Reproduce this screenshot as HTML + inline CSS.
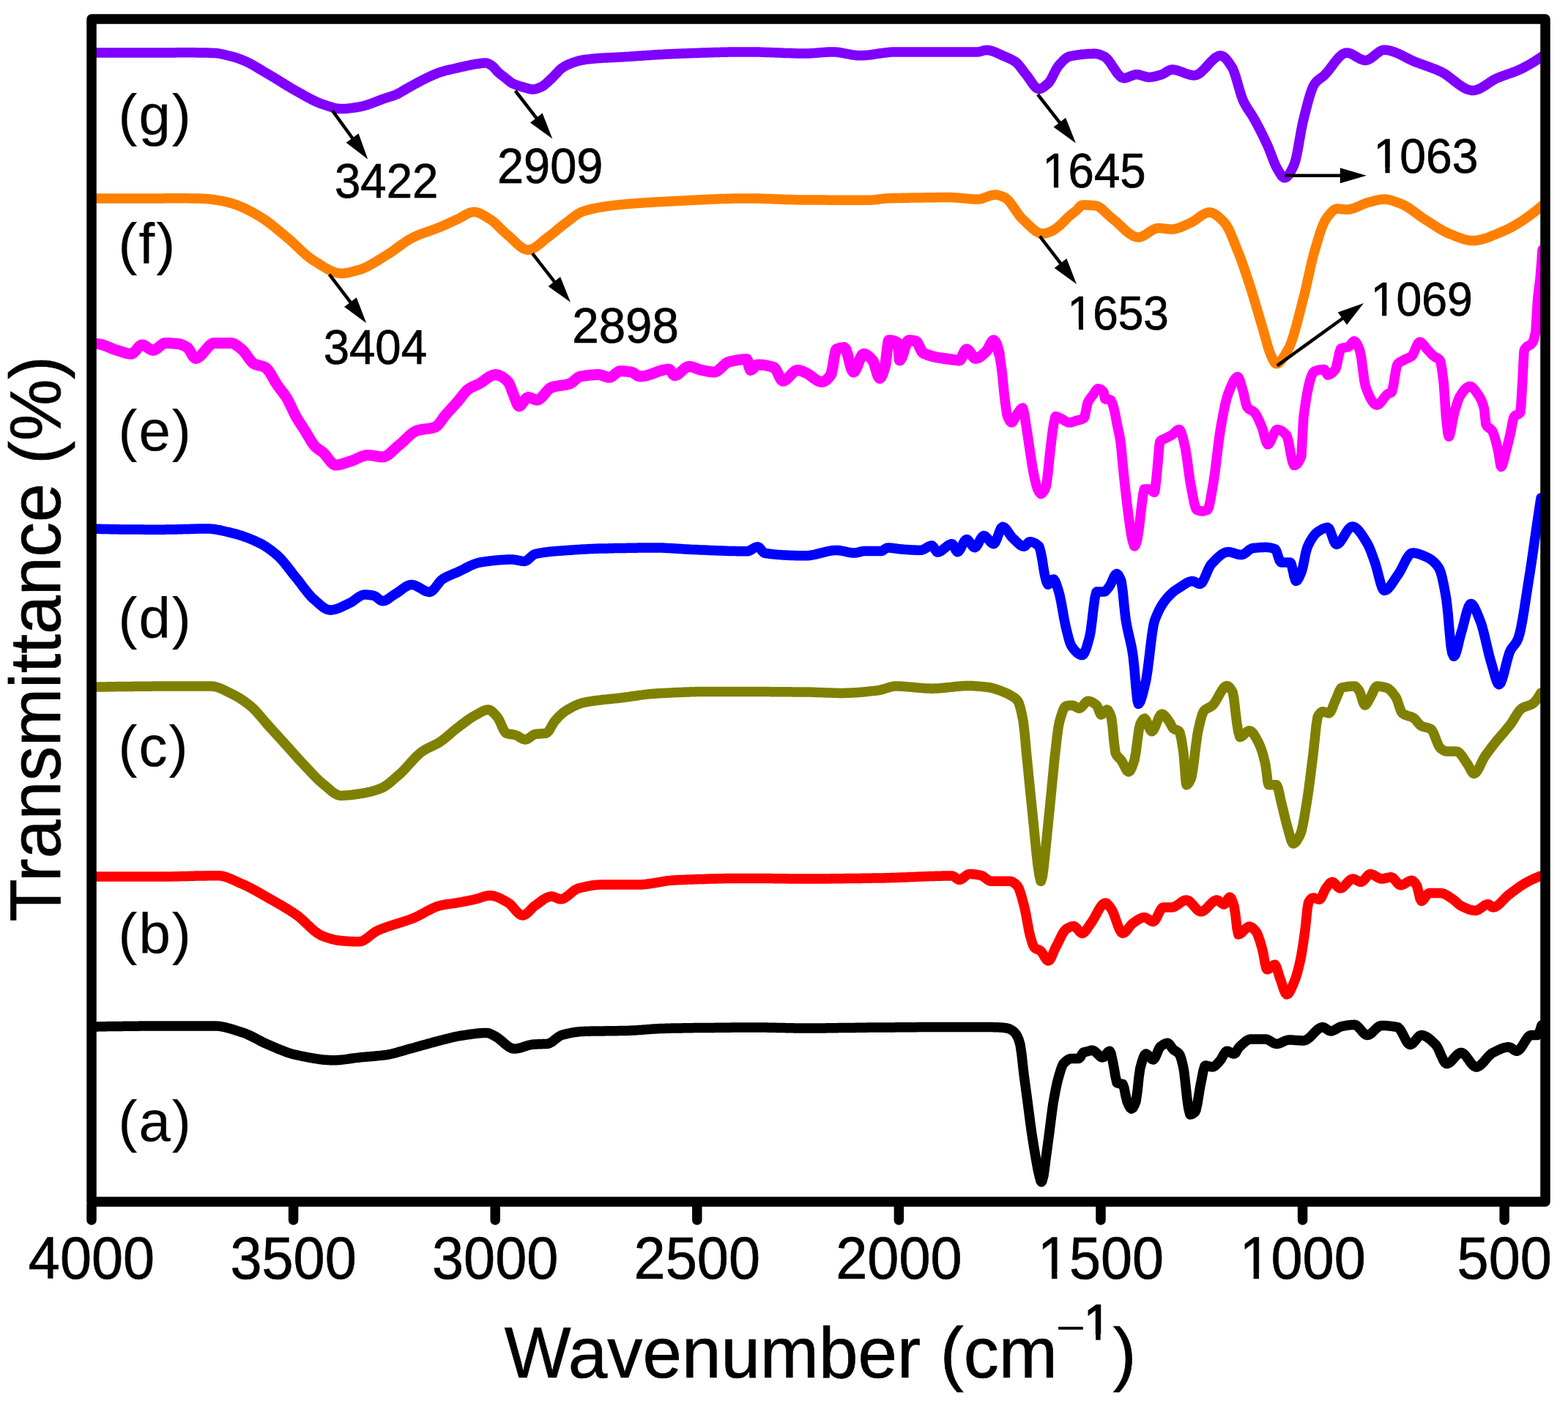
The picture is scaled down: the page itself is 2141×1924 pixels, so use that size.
<!DOCTYPE html><html><head><meta charset="utf-8"><title>FTIR spectra</title>
<style>html,body{margin:0;padding:0;background:#fff;}svg{display:block;}text{font-family:"Liberation Sans",Arial,sans-serif;fill:#000;stroke:#000;stroke-width:0.7px;}</style></head><body>
<svg width="2141" height="1924" viewBox="0 0 2141 1924">
<defs><filter id="soft" x="0" y="0" width="1" height="1"><feGaussianBlur stdDeviation="0.5"/></filter></defs>
<g filter="url(#soft)">
<rect x="0" y="0" width="2141" height="1924" fill="#fff"/>
<defs><clipPath id="pc"><rect x="125" y="26" width="1985" height="1615"/></clipPath></defs>
<g clip-path="url(#pc)" fill="none" stroke-width="13.5" stroke-linejoin="round" stroke-linecap="round">
<path d="M125.0,1402.0L127.0,1402.0 129.0,1401.9 131.0,1401.9 133.0,1401.9 135.0,1401.8 137.0,1401.8 139.0,1401.7 141.0,1401.7 143.0,1401.7 145.0,1401.7 147.0,1401.6 149.0,1401.6 151.0,1401.6 153.0,1401.5 155.0,1401.5 157.0,1401.5 159.0,1401.5 161.0,1401.4 163.0,1401.4 165.0,1401.4 167.0,1401.4 169.0,1401.3 171.0,1401.3 173.0,1401.3 175.0,1401.3 177.0,1401.3 179.0,1401.2 181.0,1401.2 183.0,1401.2 185.0,1401.2 187.0,1401.2 189.0,1401.2 191.0,1401.1 193.0,1401.1 195.0,1401.1 197.0,1401.1 199.0,1401.1 201.0,1401.1 203.0,1401.1 205.0,1401.1 207.0,1401.0 209.0,1401.0 211.0,1401.0 213.0,1401.0 215.0,1401.0 217.0,1401.0 219.0,1401.0 221.0,1401.0 223.0,1401.0 225.0,1401.0 227.0,1401.0 229.0,1401.0 231.0,1401.0 233.0,1400.9 235.0,1400.9 237.0,1400.9 239.0,1400.9 241.0,1400.9 243.0,1400.9 245.0,1400.9 247.0,1400.9 249.0,1400.9 251.0,1400.9 253.0,1400.9 255.0,1400.9 257.0,1400.9 259.0,1400.9 261.0,1400.9 263.0,1400.9 265.0,1400.9 267.0,1400.9 269.0,1400.9 271.0,1400.9 273.0,1400.9 275.0,1400.9 277.0,1400.9 279.0,1400.9 281.0,1400.9 283.0,1400.9 285.0,1400.9 287.0,1400.9 289.0,1400.9 291.0,1400.9 292.8,1400.9 293.0,1400.9 295.0,1400.9 297.0,1401.1 299.0,1401.3 301.0,1401.5 303.0,1401.9 305.0,1402.2 307.0,1402.7 309.0,1403.1 311.0,1403.7 313.0,1404.2 315.0,1404.8 317.0,1405.4 319.0,1406.0 321.0,1406.6 323.0,1407.3 325.0,1407.9 327.0,1408.6 329.0,1409.2 330.0,1409.5 331.0,1409.8 333.0,1410.5 335.0,1411.3 337.0,1412.1 339.0,1413.0 341.0,1413.9 343.0,1414.9 345.0,1415.9 347.0,1416.9 349.0,1417.9 351.0,1419.0 353.0,1420.0 355.0,1421.1 357.0,1422.1 359.0,1423.1 361.0,1424.1 363.0,1425.0 365.0,1425.9 367.0,1426.8 369.0,1427.6 371.0,1428.5 373.0,1429.3 375.0,1430.2 377.0,1431.0 379.0,1431.9 381.0,1432.7 383.0,1433.5 385.0,1434.3 387.0,1435.1 389.0,1435.9 391.0,1436.6 393.0,1437.3 395.0,1438.0 397.0,1438.6 399.0,1439.2 401.0,1439.7 403.0,1440.2 404.0,1440.4 405.0,1440.6 407.0,1441.0 409.0,1441.5 411.0,1441.9 413.0,1442.3 415.0,1442.7 417.0,1443.1 419.0,1443.5 421.0,1443.9 423.0,1444.3 425.0,1444.6 427.0,1445.0 429.0,1445.3 431.0,1445.6 433.0,1445.9 435.0,1446.2 437.0,1446.5 439.0,1446.7 441.0,1447.0 443.0,1447.2 445.0,1447.3 447.0,1447.5 449.0,1447.6 451.0,1447.7 453.0,1447.8 455.0,1447.8 455.8,1447.8 457.0,1447.8 459.0,1447.7 461.0,1447.6 463.0,1447.5 465.0,1447.3 467.0,1447.1 469.0,1446.9 471.0,1446.6 473.0,1446.4 475.0,1446.1 477.0,1445.8 479.0,1445.5 481.0,1445.2 483.0,1444.9 485.0,1444.6 487.0,1444.4 489.0,1444.2 490.4,1444.0 491.0,1443.9 493.0,1443.7 495.0,1443.6 497.0,1443.4 499.0,1443.2 501.0,1443.0 503.0,1442.9 505.0,1442.7 507.0,1442.5 509.0,1442.4 511.0,1442.2 513.0,1442.0 515.0,1441.8 517.0,1441.6 519.0,1441.4 521.0,1441.2 523.0,1441.0 525.0,1440.7 527.0,1440.5 527.4,1440.4 529.0,1440.2 531.0,1439.8 533.0,1439.4 535.0,1439.0 537.0,1438.5 539.0,1438.0 541.0,1437.5 543.0,1436.9 545.0,1436.3 547.0,1435.7 549.0,1435.2 551.0,1434.6 553.0,1434.0 555.0,1433.4 557.0,1432.8 559.0,1432.3 560.0,1432.0 561.0,1431.7 563.0,1431.2 565.0,1430.7 567.0,1430.1 569.0,1429.5 571.0,1429.0 573.0,1428.4 575.0,1427.9 577.0,1427.3 579.0,1426.7 581.0,1426.2 583.0,1425.6 585.0,1425.1 587.0,1424.5 589.0,1424.0 591.0,1423.4 593.0,1422.9 595.0,1422.4 597.0,1421.8 599.0,1421.3 599.5,1421.2 601.0,1420.8 603.0,1420.3 605.0,1419.8 607.0,1419.3 609.0,1418.7 611.0,1418.2 613.0,1417.7 615.0,1417.2 617.0,1416.7 619.0,1416.2 621.0,1415.8 623.0,1415.4 625.0,1415.0 627.0,1414.6 629.0,1414.3 631.0,1414.0 633.0,1413.7 635.0,1413.4 637.0,1413.1 639.0,1412.8 641.0,1412.5 643.0,1412.2 645.0,1411.9 647.0,1411.7 649.0,1411.4 651.0,1411.2 653.0,1411.0 655.0,1410.8 657.0,1410.7 659.0,1410.6 661.0,1410.5 663.0,1410.4 664.7,1410.4 665.0,1410.4 667.0,1410.7 669.0,1411.4 671.0,1412.3 673.0,1413.4 675.0,1414.5 676.5,1415.3 677.0,1415.6 679.0,1416.8 681.0,1418.2 683.0,1419.8 685.0,1421.5 687.0,1423.2 689.0,1425.0 691.0,1426.7 693.0,1428.2 695.0,1429.6 697.0,1430.7 699.0,1431.6 701.0,1432.0 702.2,1432.1 703.0,1432.1 705.0,1431.9 707.0,1431.6 709.0,1431.2 711.0,1430.7 713.0,1430.1 715.0,1429.4 717.0,1428.8 719.0,1428.1 721.0,1427.5 723.0,1427.0 725.0,1426.6 727.0,1426.3 727.9,1426.2 729.0,1426.1 731.0,1426.0 733.0,1425.9 735.0,1425.8 737.0,1425.8 739.0,1425.7 741.0,1425.6 743.0,1425.5 745.0,1425.4 747.0,1425.3 747.7,1425.2 749.0,1425.0 751.0,1424.2 753.0,1423.1 755.0,1421.7 757.0,1420.1 759.0,1418.5 761.0,1416.9 763.0,1415.5 765.0,1414.3 767.0,1413.4 767.4,1413.3 769.0,1412.9 771.0,1412.4 773.0,1411.9 775.0,1411.4 777.0,1411.0 779.0,1410.6 781.0,1410.2 783.0,1409.8 785.0,1409.5 787.0,1409.2 789.0,1409.0 791.0,1408.8 793.0,1408.6 795.0,1408.5 797.0,1408.4 799.0,1408.3 801.0,1408.3 803.0,1408.2 805.0,1408.2 807.0,1408.1 809.0,1408.1 811.0,1408.1 813.0,1408.0 815.0,1408.0 817.0,1408.0 819.0,1407.9 821.0,1407.9 823.0,1407.9 825.0,1407.9 827.0,1407.8 829.0,1407.8 831.0,1407.8 833.0,1407.8 835.0,1407.8 837.0,1407.7 839.0,1407.7 841.0,1407.7 843.0,1407.7 845.0,1407.6 847.0,1407.6 849.0,1407.6 851.0,1407.5 853.0,1407.5 855.0,1407.4 856.3,1407.4 857.0,1407.4 859.0,1407.3 861.0,1407.2 863.0,1407.1 865.0,1407.0 867.0,1406.9 869.0,1406.8 871.0,1406.6 873.0,1406.5 875.0,1406.4 877.0,1406.2 879.0,1406.1 881.0,1405.9 883.0,1405.7 885.0,1405.6 887.0,1405.4 889.0,1405.3 891.0,1405.1 893.0,1405.0 895.0,1404.9 897.0,1404.8 899.0,1404.7 901.0,1404.6 903.0,1404.5 905.0,1404.4 905.7,1404.4 907.0,1404.4 909.0,1404.3 911.0,1404.3 913.0,1404.2 915.0,1404.2 917.0,1404.1 919.0,1404.1 921.0,1404.0 923.0,1404.0 925.0,1404.0 927.0,1403.9 929.0,1403.9 931.0,1403.9 933.0,1403.8 935.0,1403.8 937.0,1403.8 939.0,1403.7 941.0,1403.7 943.0,1403.7 945.0,1403.7 947.0,1403.6 949.0,1403.6 951.0,1403.6 953.0,1403.6 955.0,1403.6 957.0,1403.5 959.0,1403.5 960.0,1403.5 961.0,1403.5 963.0,1403.5 965.0,1403.4 967.0,1403.4 969.0,1403.4 971.0,1403.4 973.0,1403.4 975.0,1403.4 977.0,1403.3 979.0,1403.3 981.0,1403.3 983.0,1403.3 985.0,1403.3 987.0,1403.2 989.0,1403.2 991.0,1403.2 993.0,1403.2 995.0,1403.2 997.0,1403.2 999.0,1403.1 1001.0,1403.1 1003.0,1403.1 1005.0,1403.1 1007.0,1403.1 1009.0,1403.1 1011.0,1403.1 1013.0,1403.0 1015.0,1403.0 1017.0,1403.0 1019.0,1403.0 1021.0,1403.0 1023.0,1403.0 1025.0,1403.0 1027.0,1403.0 1029.0,1403.0 1031.0,1403.0 1032.0,1403.0 1033.0,1403.0 1035.0,1403.0 1037.0,1403.0 1039.0,1403.0 1041.0,1403.0 1043.0,1403.1 1045.0,1403.1 1047.0,1403.1 1049.0,1403.2 1051.0,1403.2 1053.0,1403.2 1055.0,1403.3 1057.0,1403.3 1059.0,1403.3 1061.0,1403.4 1063.0,1403.4 1065.0,1403.5 1067.0,1403.5 1069.0,1403.6 1071.0,1403.6 1073.0,1403.7 1075.0,1403.7 1077.0,1403.7 1079.0,1403.8 1081.0,1403.8 1083.0,1403.8 1085.0,1403.9 1087.0,1403.9 1089.0,1403.9 1091.0,1404.0 1093.0,1404.0 1095.0,1404.0 1097.0,1404.0 1099.0,1404.0 1100.0,1404.0 1101.0,1404.0 1103.0,1404.0 1105.0,1404.0 1107.0,1404.0 1109.0,1404.0 1111.0,1404.0 1113.0,1404.0 1115.0,1404.0 1117.0,1403.9 1119.0,1403.9 1121.0,1403.9 1123.0,1403.9 1125.0,1403.9 1127.0,1403.9 1129.0,1403.8 1131.0,1403.8 1133.0,1403.8 1135.0,1403.8 1137.0,1403.7 1139.0,1403.7 1141.0,1403.7 1143.0,1403.7 1145.0,1403.6 1147.0,1403.6 1149.0,1403.6 1151.0,1403.6 1153.0,1403.5 1155.0,1403.5 1157.0,1403.5 1159.0,1403.5 1161.0,1403.4 1163.0,1403.4 1165.0,1403.4 1167.0,1403.4 1169.0,1403.3 1171.0,1403.3 1173.0,1403.3 1175.0,1403.2 1177.0,1403.2 1179.0,1403.2 1181.0,1403.2 1183.0,1403.2 1185.0,1403.1 1187.0,1403.1 1189.0,1403.1 1191.0,1403.1 1193.0,1403.1 1195.0,1403.0 1197.0,1403.0 1199.0,1403.0 1200.0,1403.0 1201.0,1403.0 1203.0,1403.0 1205.0,1403.0 1207.0,1403.0 1209.0,1402.9 1211.0,1402.9 1213.0,1402.9 1215.0,1402.9 1217.0,1402.9 1219.0,1402.9 1221.0,1402.9 1223.0,1402.8 1225.0,1402.8 1227.0,1402.8 1229.0,1402.8 1231.0,1402.8 1233.0,1402.8 1235.0,1402.8 1237.0,1402.7 1239.0,1402.7 1241.0,1402.7 1243.0,1402.7 1245.0,1402.7 1247.0,1402.7 1249.0,1402.7 1251.0,1402.7 1253.0,1402.6 1255.0,1402.6 1257.0,1402.6 1259.0,1402.6 1261.0,1402.6 1263.0,1402.6 1265.0,1402.6 1267.0,1402.6 1269.0,1402.6 1271.0,1402.6 1273.0,1402.6 1275.0,1402.5 1277.0,1402.5 1279.0,1402.5 1281.0,1402.5 1283.0,1402.5 1285.0,1402.5 1287.0,1402.5 1289.0,1402.5 1291.0,1402.5 1293.0,1402.5 1295.0,1402.5 1297.0,1402.5 1299.0,1402.5 1300.0,1402.5 1301.0,1402.5 1303.0,1402.5 1305.0,1402.5 1307.0,1402.5 1309.0,1402.5 1311.0,1402.5 1313.0,1402.5 1315.0,1402.5 1317.0,1402.5 1319.0,1402.5 1321.0,1402.5 1323.0,1402.5 1325.0,1402.5 1327.0,1402.5 1329.0,1402.5 1330.0,1402.5 1331.0,1402.5 1333.0,1402.5 1335.0,1402.5 1337.0,1402.5 1339.0,1402.5 1341.0,1402.5 1343.0,1402.5 1345.0,1402.5 1347.0,1402.6 1349.0,1402.6 1351.0,1402.6 1353.0,1402.6 1355.0,1402.6 1357.0,1402.7 1359.0,1402.7 1360.0,1402.7 1361.0,1402.7 1363.0,1402.8 1365.0,1402.9 1367.0,1403.0 1369.0,1403.2 1371.0,1403.4 1373.0,1403.7 1375.0,1404.0 1377.0,1404.5 1379.0,1405.3 1381.0,1406.4 1382.0,1407.0 1383.0,1407.7 1385.0,1409.4 1387.0,1411.8 1387.6,1412.6 1389.0,1415.0 1391.0,1419.7 1392.9,1426.0 1393.0,1426.4 1395.0,1439.8 1397.0,1458.1 1398.1,1467.5 1399.0,1474.4 1401.0,1489.2 1403.0,1504.0 1403.3,1506.3 1405.0,1519.4 1407.0,1534.9 1408.4,1545.0 1409.0,1549.1 1411.0,1561.9 1413.0,1573.9 1413.6,1577.3 1415.0,1585.3 1417.0,1596.3 1418.5,1603.0 1419.0,1605.0 1421.0,1612.6 1422.0,1614.0 1423.0,1612.6 1425.0,1605.0 1427.0,1590.4 1427.8,1583.8 1429.0,1574.8 1431.0,1559.9 1433.0,1545.0 1435.0,1529.1 1437.0,1513.6 1438.1,1506.3 1439.0,1501.0 1441.0,1490.0 1443.0,1480.4 1444.6,1474.0 1445.0,1472.5 1447.0,1465.4 1449.0,1459.0 1451.0,1454.1 1452.4,1452.0 1453.0,1451.4 1455.0,1449.5 1457.0,1447.8 1459.0,1446.6 1461.0,1445.8 1462.7,1445.6 1463.0,1445.6 1465.0,1445.6 1467.0,1445.6 1469.0,1445.6 1471.0,1445.6 1473.0,1445.6 1475.0,1443.8 1477.0,1440.2 1479.0,1437.3 1479.5,1437.0 1481.0,1436.6 1483.0,1436.2 1483.7,1436.0 1485.0,1435.7 1487.0,1435.1 1489.0,1434.5 1491.0,1434.2 1491.6,1434.2 1493.0,1434.5 1495.0,1435.7 1497.0,1437.5 1499.0,1439.6 1501.0,1441.6 1503.0,1443.2 1505.0,1444.0 1505.4,1444.0 1507.0,1443.4 1509.0,1441.4 1511.0,1438.7 1513.0,1436.4 1515.0,1435.2 1515.3,1435.2 1517.0,1438.4 1519.0,1447.6 1521.0,1458.0 1521.2,1458.9 1523.0,1469.5 1525.0,1478.4 1525.2,1478.6 1527.0,1479.3 1529.0,1479.6 1531.0,1479.9 1533.0,1480.6 1533.1,1480.6 1535.0,1485.9 1537.0,1496.2 1539.0,1504.3 1541.0,1508.9 1543.0,1512.5 1545.0,1514.0 1547.0,1512.6 1549.0,1509.0 1550.9,1504.3 1551.0,1504.0 1553.0,1490.6 1555.0,1471.3 1556.8,1458.9 1557.0,1458.1 1559.0,1450.7 1561.0,1444.5 1563.0,1440.3 1564.7,1439.1 1565.0,1439.1 1567.0,1440.2 1569.0,1442.3 1571.0,1444.6 1573.0,1446.4 1574.6,1447.0 1575.0,1446.9 1577.0,1444.7 1579.0,1440.4 1581.0,1435.4 1583.0,1431.1 1584.4,1429.3 1585.0,1428.8 1587.0,1427.3 1589.0,1426.0 1591.0,1425.0 1593.0,1424.4 1594.3,1424.3 1595.0,1424.4 1597.0,1426.2 1599.0,1429.0 1601.0,1431.9 1602.2,1433.2 1603.0,1433.9 1605.0,1435.1 1607.0,1436.3 1609.0,1437.9 1610.1,1439.1 1611.0,1440.6 1613.0,1446.2 1615.0,1454.3 1616.0,1458.9 1617.0,1465.1 1619.0,1482.9 1621.0,1501.3 1622.0,1508.3 1623.0,1514.4 1625.0,1522.0 1627.0,1521.6 1629.0,1520.6 1631.0,1519.0 1631.9,1518.2 1633.0,1515.9 1635.0,1506.8 1637.0,1494.5 1639.0,1482.5 1639.8,1478.6 1641.0,1472.7 1643.0,1462.3 1645.0,1455.6 1645.7,1455.0 1647.0,1455.1 1649.0,1455.5 1651.0,1456.1 1653.0,1456.6 1655.0,1456.9 1655.6,1456.9 1657.0,1456.6 1659.0,1455.5 1661.0,1453.7 1663.0,1451.6 1665.0,1449.4 1665.4,1449.0 1667.0,1446.9 1669.0,1443.4 1671.0,1439.7 1673.0,1436.7 1675.0,1435.2 1675.3,1435.2 1677.0,1435.5 1679.0,1436.4 1681.0,1437.6 1683.0,1438.6 1685.0,1439.1 1685.2,1439.1 1687.0,1437.9 1689.0,1434.6 1691.0,1431.2 1692.0,1430.0 1693.0,1429.0 1695.0,1427.1 1697.0,1425.2 1699.0,1423.4 1701.0,1421.8 1703.0,1420.5 1705.0,1419.5 1707.0,1419.0 1708.2,1418.9 1709.0,1418.9 1711.0,1418.9 1713.0,1418.9 1715.0,1418.9 1717.0,1418.9 1719.0,1418.9 1721.0,1418.9 1723.0,1418.9 1725.0,1418.9 1727.0,1418.9 1727.8,1418.9 1729.0,1419.0 1731.0,1419.6 1733.0,1420.7 1735.0,1421.9 1737.0,1423.2 1739.0,1424.3 1741.0,1425.1 1743.0,1425.4 1745.0,1425.2 1747.0,1424.7 1749.0,1423.9 1751.0,1423.0 1753.0,1422.1 1755.0,1421.2 1757.0,1420.5 1759.0,1420.1 1760.4,1420.0 1761.0,1420.0 1763.0,1420.0 1765.0,1420.1 1767.0,1420.3 1769.0,1420.4 1771.0,1420.6 1773.0,1420.7 1775.0,1420.8 1777.0,1420.9 1779.0,1421.0 1780.0,1421.0 1781.0,1420.9 1783.0,1420.3 1785.0,1419.2 1787.0,1417.7 1789.0,1415.9 1791.0,1413.9 1793.0,1411.8 1795.0,1409.7 1797.0,1407.7 1799.0,1405.9 1801.0,1404.4 1803.0,1403.3 1805.0,1402.7 1806.0,1402.6 1807.0,1402.7 1809.0,1403.6 1811.0,1404.9 1813.0,1406.4 1815.0,1407.5 1817.0,1408.0 1819.0,1407.7 1821.0,1407.0 1823.0,1406.0 1825.0,1404.9 1827.0,1403.7 1829.0,1402.6 1831.0,1401.8 1832.1,1401.5 1833.0,1401.3 1835.0,1400.9 1837.0,1400.6 1839.0,1400.2 1841.0,1399.9 1843.0,1399.7 1845.0,1399.5 1847.0,1399.4 1849.0,1399.3 1849.5,1399.3 1851.0,1399.6 1853.0,1400.8 1855.0,1402.7 1857.0,1404.9 1859.0,1407.4 1861.0,1409.7 1863.0,1411.7 1865.0,1413.0 1866.9,1413.5 1867.0,1413.5 1869.0,1413.1 1871.0,1412.0 1873.0,1410.5 1875.0,1408.6 1877.0,1406.6 1879.0,1404.6 1881.0,1402.9 1883.0,1401.5 1885.0,1400.6 1886.4,1400.4 1887.0,1400.4 1889.0,1400.4 1891.0,1400.5 1893.0,1400.6 1895.0,1400.8 1897.0,1400.9 1899.0,1401.2 1901.0,1401.4 1903.0,1401.7 1905.0,1402.0 1907.0,1402.4 1908.2,1402.6 1909.0,1402.9 1911.0,1404.7 1913.0,1407.6 1915.0,1411.3 1917.0,1415.3 1919.0,1419.2 1921.0,1422.7 1923.0,1425.2 1925.0,1426.4 1925.5,1426.5 1927.0,1426.1 1929.0,1424.8 1931.0,1422.7 1933.0,1420.2 1935.0,1417.7 1937.0,1415.5 1939.0,1414.0 1940.8,1413.5 1941.0,1413.5 1943.0,1413.7 1945.0,1414.4 1947.0,1415.3 1949.0,1416.5 1951.0,1418.0 1953.0,1419.6 1955.0,1421.4 1957.0,1423.3 1959.0,1425.2 1960.3,1426.5 1961.0,1427.3 1963.0,1430.5 1965.0,1434.6 1967.0,1439.3 1969.0,1443.9 1971.0,1448.0 1973.0,1451.1 1975.0,1452.5 1975.5,1452.6 1977.0,1452.3 1979.0,1451.3 1981.0,1449.7 1983.0,1447.6 1985.0,1445.3 1987.0,1443.0 1989.0,1440.8 1991.0,1439.1 1993.0,1437.8 1995.0,1437.4 1997.0,1437.9 1999.0,1439.3 2001.0,1441.4 2003.0,1443.9 2005.0,1446.7 2007.0,1449.5 2009.0,1452.2 2011.0,1454.4 2013.0,1456.1 2015.0,1456.9 2015.7,1457.0 2017.0,1456.9 2019.0,1456.1 2021.0,1454.8 2023.0,1453.0 2025.0,1451.0 2027.0,1448.7 2029.0,1446.4 2031.0,1444.0 2033.0,1441.8 2035.0,1439.9 2037.0,1438.3 2038.5,1437.4 2039.0,1437.2 2041.0,1436.2 2043.0,1435.2 2045.0,1434.2 2047.0,1433.3 2049.0,1432.4 2051.0,1431.6 2053.0,1431.0 2055.0,1430.4 2057.0,1430.1 2059.0,1429.8 2060.3,1429.8 2061.0,1429.9 2063.0,1430.6 2065.0,1432.0 2067.0,1433.5 2069.0,1434.7 2071.0,1435.2 2071.1,1435.2 2073.0,1434.6 2075.0,1433.0 2077.0,1430.5 2079.0,1427.5 2081.0,1424.2 2083.0,1420.9 2085.0,1417.9 2087.0,1415.5 2089.0,1414.0 2090.7,1413.5 2091.0,1413.5 2093.0,1413.5 2095.0,1413.5 2097.0,1413.5 2099.0,1413.5 2099.4,1413.5 2101.0,1411.9 2103.0,1406.7 2105.0,1400.0" stroke="#000000"/>
<path d="M125.0,1197.0L127.0,1197.0 129.0,1197.0 131.0,1197.0 133.0,1197.0 135.0,1197.0 137.0,1197.0 139.0,1197.0 141.0,1197.0 143.0,1197.0 145.0,1197.0 147.0,1197.0 149.0,1197.0 151.0,1197.0 153.0,1197.0 155.0,1197.0 157.0,1197.0 159.0,1197.0 161.0,1197.0 163.0,1197.0 165.0,1197.0 167.0,1197.0 169.0,1197.0 171.0,1197.0 173.0,1197.0 175.0,1197.0 177.0,1197.0 179.0,1197.0 181.0,1197.0 183.0,1197.0 185.0,1197.0 187.0,1197.0 189.0,1197.0 191.0,1197.0 193.0,1197.0 195.0,1197.0 197.0,1197.0 199.0,1197.0 201.0,1197.0 203.0,1197.0 205.0,1197.0 207.0,1197.0 209.0,1197.0 211.0,1197.0 213.0,1197.0 215.0,1197.0 217.0,1197.0 218.8,1197.0 219.0,1197.0 221.0,1197.0 223.0,1197.0 225.0,1197.0 227.0,1197.0 229.0,1196.9 231.0,1196.9 233.0,1196.9 235.0,1196.9 237.0,1196.8 239.0,1196.8 241.0,1196.7 243.0,1196.7 245.0,1196.7 247.0,1196.6 249.0,1196.6 251.0,1196.5 253.0,1196.5 255.0,1196.4 257.0,1196.4 259.0,1196.3 261.0,1196.3 263.0,1196.2 265.0,1196.2 267.0,1196.1 269.0,1196.1 271.0,1196.0 273.0,1196.0 275.0,1196.0 277.0,1195.9 279.0,1195.9 281.0,1195.9 283.0,1195.8 285.0,1195.8 287.0,1195.8 289.0,1195.7 291.0,1195.7 293.0,1195.7 295.0,1195.7 297.0,1195.7 297.8,1195.7 299.0,1195.7 301.0,1195.9 303.0,1196.2 305.0,1196.6 307.0,1197.1 309.0,1197.7 311.0,1198.4 313.0,1199.2 315.0,1200.0 317.0,1200.9 319.0,1201.8 321.0,1202.7 323.0,1203.7 325.0,1204.6 327.0,1205.5 329.0,1206.4 330.0,1206.8 331.0,1207.2 333.0,1208.1 335.0,1209.0 337.0,1210.0 339.0,1210.9 341.0,1212.0 343.0,1213.0 345.0,1214.1 347.0,1215.1 349.0,1216.2 351.0,1217.4 353.0,1218.5 355.0,1219.6 357.0,1220.8 359.0,1221.9 361.0,1223.1 363.0,1224.2 365.0,1225.4 367.0,1226.5 369.0,1227.6 371.0,1228.8 373.0,1229.9 375.0,1231.0 377.0,1232.2 379.0,1233.3 381.0,1234.5 383.0,1235.6 385.0,1236.8 387.0,1238.0 389.0,1239.2 391.0,1240.4 393.0,1241.6 395.0,1242.9 397.0,1244.2 399.0,1245.4 401.0,1246.8 403.0,1248.1 404.0,1248.8 405.0,1249.5 407.0,1251.0 409.0,1252.6 411.0,1254.3 413.0,1256.1 415.0,1258.0 417.0,1259.9 419.0,1261.8 421.0,1263.7 423.0,1265.5 425.0,1267.4 427.0,1269.2 429.0,1270.9 431.0,1272.5 433.0,1274.0 435.0,1275.3 437.0,1276.5 439.0,1277.6 441.0,1278.4 443.0,1279.1 445.0,1279.8 447.0,1280.5 449.0,1281.1 451.0,1281.7 453.0,1282.3 455.0,1282.8 457.0,1283.3 459.0,1283.7 461.0,1284.0 463.0,1284.3 465.0,1284.5 465.7,1284.6 467.0,1284.7 469.0,1284.9 471.0,1285.0 473.0,1285.1 475.0,1285.3 477.0,1285.4 479.0,1285.5 481.0,1285.6 483.0,1285.7 485.0,1285.7 487.0,1285.8 489.0,1285.8 490.4,1285.8 491.0,1285.8 493.0,1285.5 495.0,1284.8 497.0,1283.8 499.0,1282.5 501.0,1281.1 503.0,1279.6 505.0,1278.0 507.0,1276.3 509.0,1274.8 511.0,1273.3 513.0,1272.0 515.0,1271.0 517.0,1270.1 519.0,1269.3 521.0,1268.4 523.0,1267.7 525.0,1266.9 527.0,1266.2 529.0,1265.5 531.0,1264.8 533.0,1264.1 535.0,1263.5 537.0,1262.9 539.0,1262.2 541.0,1261.6 543.0,1261.0 545.0,1260.4 547.0,1259.8 549.0,1259.1 551.0,1258.5 553.0,1257.8 555.0,1257.2 557.0,1256.5 559.0,1255.8 561.0,1255.0 563.0,1254.3 564.4,1253.7 565.0,1253.5 567.0,1252.6 569.0,1251.7 571.0,1250.7 573.0,1249.6 575.0,1248.6 577.0,1247.5 579.0,1246.4 581.0,1245.3 583.0,1244.2 585.0,1243.1 587.0,1242.1 589.0,1241.1 591.0,1240.2 593.0,1239.3 595.0,1238.4 597.0,1237.7 599.0,1237.1 601.0,1236.5 601.5,1236.4 603.0,1236.1 605.0,1235.7 607.0,1235.3 609.0,1235.0 611.0,1234.7 613.0,1234.4 615.0,1234.1 617.0,1233.9 619.0,1233.6 621.0,1233.3 623.0,1233.0 624.7,1232.7 625.0,1232.6 627.0,1232.3 629.0,1231.9 631.0,1231.6 633.0,1231.2 635.0,1230.8 637.0,1230.4 639.0,1230.0 641.0,1229.6 643.0,1229.2 645.0,1228.8 647.0,1228.3 649.0,1227.9 649.4,1227.8 651.0,1227.4 653.0,1226.8 655.0,1226.2 657.0,1225.5 659.0,1224.8 661.0,1224.2 663.0,1223.6 665.0,1223.2 667.0,1222.9 669.0,1222.8 671.0,1222.9 673.0,1223.2 675.0,1223.6 677.0,1224.3 679.0,1225.0 681.0,1225.8 683.0,1226.8 685.0,1227.8 687.0,1228.9 689.0,1230.0 691.0,1231.1 693.0,1232.3 693.8,1232.7 695.0,1233.5 697.0,1235.2 699.0,1237.2 701.0,1239.5 703.0,1241.9 705.0,1244.2 707.0,1246.3 709.0,1248.1 711.0,1249.3 713.0,1250.0 713.6,1250.0 715.0,1249.8 717.0,1249.0 719.0,1247.6 721.0,1245.9 723.0,1243.9 725.0,1241.8 727.0,1239.7 729.0,1237.8 730.9,1236.4 731.0,1236.3 733.0,1235.0 735.0,1233.5 737.0,1232.0 739.0,1230.5 741.0,1229.0 743.0,1227.7 745.0,1226.5 747.0,1225.5 749.0,1224.7 751.0,1224.2 753.0,1224.0 755.0,1224.3 757.0,1224.9 759.0,1225.8 761.0,1226.7 763.0,1227.4 765.0,1227.8 765.4,1227.8 767.0,1227.6 769.0,1227.1 771.0,1226.1 773.0,1224.8 775.0,1223.4 777.0,1221.8 779.0,1220.1 781.0,1218.4 783.0,1216.8 785.0,1215.4 787.0,1214.2 789.0,1213.3 790.0,1213.0 791.0,1212.7 793.0,1212.3 795.0,1211.8 797.0,1211.3 799.0,1210.9 801.0,1210.4 803.0,1210.0 805.0,1209.7 807.0,1209.3 809.0,1209.0 811.0,1208.7 813.0,1208.5 815.0,1208.3 817.0,1208.2 819.0,1208.1 821.0,1208.0 822.2,1208.0 823.0,1208.0 825.0,1208.0 827.0,1208.0 829.0,1208.0 831.0,1208.0 833.0,1208.0 835.0,1208.0 837.0,1208.0 839.0,1208.0 841.0,1208.0 843.0,1208.0 845.0,1208.0 847.0,1208.0 849.0,1208.0 851.0,1208.0 853.0,1208.0 855.0,1208.0 857.0,1208.0 859.0,1208.0 861.0,1208.0 863.0,1208.0 865.0,1208.0 867.0,1208.0 869.0,1208.0 871.0,1208.0 871.6,1208.0 873.0,1208.0 875.0,1207.9 877.0,1207.8 879.0,1207.7 881.0,1207.5 883.0,1207.3 885.0,1207.0 887.0,1206.7 889.0,1206.4 891.0,1206.1 893.0,1205.8 895.0,1205.5 897.0,1205.1 899.0,1204.8 901.0,1204.4 903.0,1204.1 905.0,1203.7 907.0,1203.4 909.0,1203.1 911.0,1202.8 913.0,1202.6 915.0,1202.4 917.0,1202.2 919.0,1202.0 921.0,1201.9 923.0,1201.8 925.0,1201.7 927.0,1201.6 929.0,1201.5 931.0,1201.5 933.0,1201.4 935.0,1201.3 937.0,1201.2 939.0,1201.1 941.0,1201.1 943.0,1201.0 945.0,1200.9 947.0,1200.8 949.0,1200.8 951.0,1200.7 953.0,1200.6 955.0,1200.6 957.0,1200.5 959.0,1200.4 961.0,1200.4 963.0,1200.3 965.0,1200.2 967.0,1200.2 969.0,1200.1 971.0,1200.1 973.0,1200.0 975.0,1200.0 977.0,1199.9 979.0,1199.9 981.0,1199.8 983.0,1199.8 985.0,1199.8 987.0,1199.7 989.0,1199.7 991.0,1199.6 993.0,1199.6 995.0,1199.6 997.0,1199.6 999.0,1199.5 1001.0,1199.5 1003.0,1199.5 1005.0,1199.5 1007.0,1199.4 1009.0,1199.4 1011.0,1199.4 1013.0,1199.4 1015.0,1199.4 1017.0,1199.4 1019.0,1199.4 1019.8,1199.4 1021.0,1199.4 1023.0,1199.4 1025.0,1199.4 1027.0,1199.4 1029.0,1199.4 1031.0,1199.4 1033.0,1199.4 1035.0,1199.5 1037.0,1199.5 1039.0,1199.5 1041.0,1199.5 1043.0,1199.5 1045.0,1199.5 1047.0,1199.6 1049.0,1199.6 1051.0,1199.6 1053.0,1199.6 1055.0,1199.6 1057.0,1199.7 1059.0,1199.7 1061.0,1199.7 1063.0,1199.7 1065.0,1199.8 1067.0,1199.8 1069.0,1199.8 1071.0,1199.8 1073.0,1199.8 1075.0,1199.9 1077.0,1199.9 1079.0,1199.9 1081.0,1199.9 1083.0,1199.9 1085.0,1199.9 1087.0,1200.0 1089.0,1200.0 1091.0,1200.0 1093.0,1200.0 1095.0,1200.0 1097.0,1200.0 1099.0,1200.0 1100.0,1200.0 1101.0,1200.0 1103.0,1200.0 1105.0,1200.0 1107.0,1200.0 1109.0,1200.0 1111.0,1200.0 1113.0,1200.0 1115.0,1200.0 1117.0,1200.0 1119.0,1199.9 1121.0,1199.9 1123.0,1199.9 1125.0,1199.9 1127.0,1199.9 1129.0,1199.9 1131.0,1199.9 1133.0,1199.9 1135.0,1199.8 1137.0,1199.8 1139.0,1199.8 1141.0,1199.8 1143.0,1199.8 1145.0,1199.7 1147.0,1199.7 1149.0,1199.7 1151.0,1199.7 1153.0,1199.7 1155.0,1199.6 1157.0,1199.6 1159.0,1199.6 1161.0,1199.6 1163.0,1199.5 1165.0,1199.5 1167.0,1199.5 1169.0,1199.5 1171.0,1199.4 1173.0,1199.4 1175.0,1199.4 1177.0,1199.3 1179.0,1199.3 1181.0,1199.3 1183.0,1199.3 1185.0,1199.2 1187.0,1199.2 1189.0,1199.2 1191.0,1199.1 1193.0,1199.1 1195.0,1199.1 1197.0,1199.0 1199.0,1199.0 1200.0,1199.0 1201.0,1199.0 1203.0,1198.9 1205.0,1198.9 1207.0,1198.9 1209.0,1198.8 1211.0,1198.8 1213.0,1198.7 1215.0,1198.7 1217.0,1198.6 1219.0,1198.5 1221.0,1198.5 1223.0,1198.4 1225.0,1198.3 1227.0,1198.2 1229.0,1198.2 1231.0,1198.1 1233.0,1198.0 1235.0,1197.9 1237.0,1197.9 1239.0,1197.8 1241.0,1197.7 1243.0,1197.6 1245.0,1197.5 1247.0,1197.4 1249.0,1197.4 1251.0,1197.3 1253.0,1197.2 1255.0,1197.1 1257.0,1197.0 1259.0,1197.0 1261.0,1196.9 1263.0,1196.8 1265.0,1196.7 1267.0,1196.7 1269.0,1196.6 1271.0,1196.5 1273.0,1196.5 1275.0,1196.4 1277.0,1196.3 1279.0,1196.3 1281.0,1196.2 1283.0,1196.2 1285.0,1196.2 1287.0,1196.1 1289.0,1196.1 1291.0,1196.1 1293.0,1196.0 1295.0,1196.0 1297.0,1196.0 1299.0,1196.0 1300.0,1196.0 1301.0,1196.2 1303.0,1197.2 1305.0,1198.7 1307.0,1200.3 1309.0,1201.3 1309.9,1201.4 1311.0,1201.3 1313.0,1200.4 1315.0,1199.0 1317.0,1197.3 1319.0,1195.6 1321.0,1194.3 1323.0,1193.6 1323.7,1193.5 1325.0,1193.5 1327.0,1193.6 1329.0,1193.8 1331.0,1194.0 1333.0,1194.2 1335.0,1194.6 1337.0,1194.9 1339.0,1195.3 1339.5,1195.4 1341.0,1195.9 1343.0,1197.1 1345.0,1198.6 1347.0,1200.2 1349.0,1201.7 1351.0,1202.8 1353.0,1203.3 1353.3,1203.3 1355.0,1203.3 1357.0,1203.3 1359.0,1203.3 1361.0,1203.3 1363.0,1203.3 1365.0,1203.3 1367.0,1203.3 1369.0,1203.3 1371.0,1203.3 1373.0,1203.3 1375.0,1203.3 1377.0,1203.3 1379.0,1203.3 1381.0,1203.6 1383.0,1204.5 1385.0,1205.8 1387.0,1207.5 1388.9,1209.3 1389.0,1209.4 1391.0,1212.7 1393.0,1218.0 1395.0,1224.6 1397.0,1232.0 1398.8,1238.9 1399.0,1239.7 1401.0,1249.2 1403.0,1260.4 1405.0,1271.2 1406.7,1278.4 1407.0,1279.4 1409.0,1286.2 1411.0,1291.7 1412.6,1294.2 1413.0,1294.5 1415.0,1295.7 1417.0,1296.5 1419.0,1297.2 1420.5,1298.1 1421.0,1298.5 1423.0,1301.0 1425.0,1304.3 1427.0,1307.8 1429.0,1310.6 1431.0,1312.0 1431.4,1312.0 1433.0,1311.2 1435.0,1308.3 1437.0,1304.0 1439.0,1299.2 1441.0,1294.6 1442.2,1292.2 1443.0,1290.7 1445.0,1286.8 1447.0,1282.6 1449.0,1278.5 1451.0,1274.8 1453.0,1271.6 1455.0,1269.3 1456.0,1268.5 1457.0,1267.9 1459.0,1266.8 1461.0,1265.8 1463.0,1265.1 1465.0,1264.7 1466.0,1264.6 1467.0,1264.8 1469.0,1266.2 1471.0,1268.4 1473.0,1270.9 1475.0,1273.0 1477.0,1274.3 1477.8,1274.4 1479.0,1274.1 1481.0,1272.7 1483.0,1270.3 1485.0,1267.4 1487.0,1264.3 1489.0,1261.4 1489.6,1260.6 1491.0,1258.7 1493.0,1255.5 1495.0,1252.0 1497.0,1248.3 1499.0,1244.6 1501.0,1241.1 1503.0,1238.0 1505.0,1235.5 1507.0,1233.8 1509.0,1233.0 1509.4,1233.0 1511.0,1233.5 1513.0,1235.3 1515.0,1237.8 1517.0,1240.5 1517.3,1240.9 1519.0,1243.8 1521.0,1248.4 1523.0,1254.0 1525.0,1259.8 1527.0,1265.3 1529.0,1270.0 1531.0,1273.2 1533.0,1274.4 1535.0,1273.8 1537.0,1272.2 1539.0,1270.0 1541.0,1267.3 1543.0,1264.7 1545.0,1262.3 1547.0,1260.6 1549.0,1259.2 1551.0,1257.8 1553.0,1256.5 1555.0,1255.2 1557.0,1254.2 1559.0,1253.4 1561.0,1252.8 1562.7,1252.7 1563.0,1252.7 1565.0,1253.3 1567.0,1254.5 1569.0,1255.9 1571.0,1257.3 1573.0,1258.3 1574.6,1258.6 1575.0,1258.6 1577.0,1257.0 1579.0,1253.9 1581.0,1249.8 1583.0,1245.6 1585.0,1241.9 1587.0,1239.5 1588.4,1238.9 1589.0,1238.9 1591.0,1238.9 1593.0,1238.9 1595.0,1238.9 1597.0,1238.9 1599.0,1238.9 1600.2,1238.9 1601.0,1238.9 1603.0,1238.4 1605.0,1237.4 1607.0,1236.2 1609.0,1234.8 1611.0,1233.3 1613.0,1231.8 1615.0,1230.6 1617.0,1229.6 1619.0,1229.1 1620.0,1229.0 1621.0,1229.1 1623.0,1230.0 1625.0,1231.5 1627.0,1233.5 1629.0,1235.8 1631.0,1238.2 1633.0,1240.5 1635.0,1242.5 1637.0,1243.9 1639.0,1244.7 1639.8,1244.8 1641.0,1244.7 1643.0,1243.9 1645.0,1242.5 1647.0,1240.7 1649.0,1238.7 1651.0,1236.5 1653.0,1234.4 1655.0,1232.4 1657.0,1230.8 1659.0,1229.6 1661.0,1229.0 1661.5,1229.0 1663.0,1229.4 1665.0,1230.7 1667.0,1232.5 1669.0,1234.1 1671.0,1235.0 1671.4,1235.0 1673.0,1233.9 1675.0,1230.7 1677.0,1227.0 1679.0,1225.0 1679.3,1225.0 1681.0,1226.5 1683.0,1231.1 1685.0,1237.3 1685.2,1238.0 1687.0,1249.8 1689.0,1267.6 1690.9,1276.0 1691.0,1276.0 1693.0,1275.4 1695.0,1274.0 1697.0,1272.1 1699.0,1270.0 1701.0,1268.0 1703.0,1266.3 1705.0,1265.3 1706.0,1265.2 1707.0,1265.3 1709.0,1266.2 1711.0,1267.7 1713.0,1269.7 1714.8,1271.7 1715.0,1271.9 1717.0,1275.5 1719.0,1280.8 1721.0,1287.1 1723.0,1293.9 1723.5,1295.6 1725.0,1302.4 1727.0,1313.9 1729.0,1322.4 1730.0,1323.8 1731.0,1323.6 1733.0,1322.6 1735.0,1320.9 1737.0,1319.1 1739.0,1317.8 1740.8,1317.3 1741.0,1317.3 1743.0,1320.6 1745.0,1327.0 1747.0,1333.6 1747.4,1334.7 1749.0,1339.2 1751.0,1345.5 1753.0,1351.6 1755.0,1356.1 1757.0,1358.0 1757.1,1358.0 1759.0,1357.1 1761.0,1354.4 1763.0,1350.5 1765.0,1345.9 1767.0,1341.2 1769.0,1336.0 1771.0,1329.5 1773.0,1322.0 1775.0,1313.5 1775.6,1310.8 1777.0,1303.6 1779.0,1291.3 1781.0,1277.5 1782.1,1269.5 1783.0,1261.6 1785.0,1241.3 1786.5,1232.6 1787.0,1231.7 1789.0,1228.6 1791.0,1226.7 1793.0,1226.0 1795.0,1226.3 1797.0,1227.0 1799.0,1227.7 1801.0,1228.2 1801.7,1228.2 1803.0,1227.5 1805.0,1224.3 1807.0,1219.8 1809.0,1215.3 1810.4,1213.0 1811.0,1212.2 1813.0,1209.5 1815.0,1206.9 1817.0,1205.0 1819.0,1204.3 1821.0,1205.1 1823.0,1206.9 1825.0,1209.2 1827.0,1211.4 1829.0,1212.8 1830.0,1213.0 1831.0,1212.9 1833.0,1212.0 1835.0,1210.4 1837.0,1208.3 1839.0,1206.1 1841.0,1203.9 1843.0,1202.0 1845.0,1200.6 1847.0,1200.0 1847.3,1200.0 1849.0,1200.3 1851.0,1201.2 1853.0,1202.3 1855.0,1203.4 1857.0,1204.2 1858.2,1204.3 1859.0,1204.2 1861.0,1203.0 1863.0,1201.0 1865.0,1198.5 1867.0,1196.2 1869.0,1194.3 1871.0,1193.5 1871.2,1193.5 1873.0,1193.8 1875.0,1194.5 1877.0,1195.6 1879.0,1196.9 1881.0,1198.1 1883.0,1199.2 1885.0,1199.8 1886.4,1200.0 1887.0,1200.0 1889.0,1199.8 1891.0,1199.4 1893.0,1198.9 1895.0,1198.4 1897.0,1198.0 1899.0,1197.8 1899.5,1197.8 1901.0,1198.2 1903.0,1199.7 1905.0,1202.0 1907.0,1204.5 1909.0,1206.8 1911.0,1208.3 1912.5,1208.7 1913.0,1208.7 1915.0,1208.2 1917.0,1207.3 1919.0,1206.2 1921.0,1204.9 1923.0,1203.7 1925.0,1202.7 1927.0,1202.2 1927.7,1202.2 1929.0,1202.6 1931.0,1204.3 1933.0,1206.9 1934.2,1208.7 1935.0,1210.5 1937.0,1218.5 1939.0,1227.0 1940.8,1230.4 1941.0,1230.4 1943.0,1229.2 1945.0,1226.7 1947.0,1223.7 1949.0,1221.1 1951.0,1219.6 1951.6,1219.5 1953.0,1219.5 1955.0,1219.5 1957.0,1219.5 1959.0,1219.5 1961.0,1219.5 1963.0,1219.5 1965.0,1219.5 1966.8,1219.5 1967.0,1219.5 1969.0,1219.7 1971.0,1220.3 1973.0,1221.1 1975.0,1222.2 1977.0,1223.4 1979.0,1224.7 1981.0,1226.1 1983.0,1227.4 1984.2,1228.2 1985.0,1228.7 1987.0,1230.4 1989.0,1232.2 1991.0,1234.1 1993.0,1235.8 1995.0,1237.0 1997.0,1238.0 1999.0,1238.9 2001.0,1239.8 2003.0,1240.7 2005.0,1241.5 2007.0,1242.1 2009.0,1242.7 2011.0,1243.1 2013.0,1243.3 2014.6,1243.4 2015.0,1243.4 2017.0,1242.9 2019.0,1242.0 2021.0,1240.7 2023.0,1239.3 2025.0,1237.8 2027.0,1236.4 2029.0,1235.4 2031.0,1234.8 2032.0,1234.7 2033.0,1235.0 2035.0,1236.6 2037.0,1238.4 2038.5,1239.0 2039.0,1239.0 2041.0,1238.6 2043.0,1237.6 2045.0,1236.3 2047.0,1234.7 2049.0,1232.8 2051.0,1230.7 2053.0,1228.6 2055.0,1226.5 2057.0,1224.5 2059.0,1222.7 2060.3,1221.7 2061.0,1221.2 2063.0,1219.7 2065.0,1218.2 2067.0,1216.7 2069.0,1215.2 2071.0,1213.7 2073.0,1212.2 2075.0,1210.8 2077.0,1209.4 2079.0,1208.1 2081.0,1206.9 2083.0,1205.7 2084.2,1205.0 2085.0,1204.6 2087.0,1203.5 2089.0,1202.5 2091.0,1201.5 2093.0,1200.5 2095.0,1199.6 2097.0,1198.7 2099.0,1197.9 2101.0,1197.1 2103.0,1196.4 2104.0,1196.0" stroke="#ff0000"/>
<path d="M125.0,938.3L127.0,938.3 129.0,938.2 131.0,938.2 133.0,938.1 135.0,938.1 137.0,938.0 139.0,938.0 141.0,938.0 143.0,937.9 145.0,937.9 147.0,937.8 149.0,937.8 151.0,937.8 153.0,937.7 155.0,937.7 157.0,937.7 159.0,937.6 161.0,937.6 163.0,937.6 165.0,937.6 167.0,937.5 169.0,937.5 171.0,937.5 173.0,937.5 175.0,937.4 177.0,937.4 179.0,937.4 181.0,937.4 183.0,937.3 185.0,937.3 187.0,937.3 189.0,937.3 191.0,937.3 193.0,937.3 195.0,937.2 197.0,937.2 199.0,937.2 201.0,937.2 203.0,937.2 205.0,937.2 207.0,937.2 209.0,937.1 211.0,937.1 213.0,937.1 215.0,937.1 217.0,937.1 219.0,937.1 221.0,937.1 223.0,937.1 225.0,937.1 227.0,937.1 229.0,937.1 231.0,937.1 233.0,937.0 235.0,937.0 237.0,937.0 239.0,937.0 241.0,937.0 243.0,937.0 245.0,937.0 247.0,937.0 249.0,937.0 251.0,937.0 253.0,937.0 255.0,937.0 257.0,937.0 259.0,937.0 261.0,937.0 263.0,937.0 265.0,937.0 267.0,937.0 269.0,937.0 271.0,937.0 273.0,937.0 275.0,937.0 277.0,937.0 279.0,937.0 281.0,937.0 283.0,937.0 285.0,937.0 287.0,937.0 288.0,937.0 289.0,937.0 291.0,937.2 293.0,937.5 295.0,938.0 297.0,938.5 299.0,939.2 301.0,940.0 303.0,940.8 305.0,941.8 307.0,942.7 309.0,943.7 311.0,944.7 313.0,945.8 315.0,946.8 317.0,947.8 317.5,948.0 319.0,948.7 321.0,949.8 323.0,950.9 325.0,952.0 327.0,953.2 329.0,954.5 331.0,955.8 333.0,957.2 335.0,958.6 337.0,960.1 339.0,961.6 341.0,963.2 342.2,964.2 343.0,964.9 345.0,966.7 347.0,968.6 349.0,970.7 351.0,972.8 353.0,975.1 355.0,977.4 357.0,979.8 359.0,982.1 361.0,984.5 363.0,986.9 365.0,989.2 367.0,991.4 369.0,993.6 371.0,995.8 373.0,998.0 375.0,1000.2 377.0,1002.4 379.0,1004.6 381.0,1006.8 383.0,1009.0 385.0,1011.2 387.0,1013.4 389.0,1015.6 391.0,1017.8 391.6,1018.5 393.0,1020.0 395.0,1022.3 397.0,1024.5 399.0,1026.7 401.0,1029.0 403.0,1031.2 405.0,1033.4 407.0,1035.7 409.0,1037.9 411.0,1040.0 413.0,1042.2 415.0,1044.3 416.3,1045.7 417.0,1046.4 419.0,1048.6 421.0,1050.7 423.0,1052.9 425.0,1055.0 427.0,1057.1 429.0,1059.2 431.0,1061.3 433.0,1063.3 435.0,1065.2 437.0,1067.0 439.0,1068.8 441.0,1070.4 443.0,1072.0 445.0,1073.7 447.0,1075.5 449.0,1077.2 451.0,1078.9 453.0,1080.6 455.0,1082.1 457.0,1083.4 459.0,1084.5 461.0,1085.5 463.0,1086.1 465.0,1086.4 465.7,1086.4 467.0,1086.4 469.0,1086.3 471.0,1086.2 473.0,1086.1 475.0,1085.9 477.0,1085.7 479.0,1085.5 481.0,1085.3 483.0,1085.0 485.0,1084.8 487.0,1084.5 489.0,1084.2 490.4,1084.0 491.0,1083.9 493.0,1083.6 495.0,1083.3 497.0,1082.9 499.0,1082.5 501.0,1082.1 503.0,1081.7 505.0,1081.2 507.0,1080.7 509.0,1080.2 511.0,1079.6 513.0,1079.0 515.0,1078.3 517.0,1077.6 519.0,1076.9 520.0,1076.5 521.0,1076.1 523.0,1075.1 525.0,1074.0 527.0,1072.7 529.0,1071.3 531.0,1069.8 533.0,1068.2 535.0,1066.5 537.0,1064.7 539.0,1063.0 541.0,1061.2 543.0,1059.5 544.7,1058.0 545.0,1057.7 547.0,1056.0 549.0,1054.0 551.0,1052.0 553.0,1049.9 555.0,1047.7 557.0,1045.5 559.0,1043.3 561.0,1041.1 563.0,1038.9 565.0,1036.7 567.0,1034.6 569.0,1032.6 571.0,1030.7 573.0,1028.9 575.0,1027.3 576.8,1026.0 577.0,1025.9 579.0,1024.6 581.0,1023.4 583.0,1022.3 585.0,1021.3 587.0,1020.3 589.0,1019.4 591.0,1018.4 593.0,1017.5 595.0,1016.5 597.0,1015.4 599.0,1014.2 600.0,1013.6 601.0,1012.9 603.0,1011.6 605.0,1010.1 607.0,1008.5 609.0,1006.9 611.0,1005.2 613.0,1003.5 615.0,1001.8 617.0,1000.0 619.0,998.4 621.0,996.7 623.0,995.1 624.7,993.8 625.0,993.6 627.0,992.1 629.0,990.5 631.0,989.0 633.0,987.5 635.0,986.0 637.0,984.5 639.0,983.0 641.0,981.6 643.0,980.3 645.0,979.0 647.0,977.8 649.0,976.7 649.4,976.5 651.0,975.6 653.0,974.5 655.0,973.3 657.0,972.2 659.0,971.2 661.0,970.3 663.0,969.6 665.0,969.2 666.7,969.1 667.0,969.1 669.0,969.6 671.0,970.8 673.0,972.5 675.0,974.5 677.0,976.7 679.0,979.0 681.0,982.0 683.0,986.2 685.0,990.8 687.0,995.2 689.0,998.9 691.0,1001.0 691.4,1001.2 693.0,1001.7 695.0,1002.2 697.0,1002.5 699.0,1002.8 701.0,1003.1 703.0,1003.5 703.7,1003.7 705.0,1004.2 707.0,1005.1 709.0,1006.3 711.0,1007.6 713.0,1008.7 715.0,1009.5 717.0,1009.9 717.3,1009.9 719.0,1009.6 721.0,1008.7 723.0,1007.3 725.0,1005.8 727.0,1004.3 729.0,1003.1 730.9,1002.5 731.0,1002.5 733.0,1002.2 735.0,1002.1 737.0,1001.9 739.0,1001.8 741.0,1001.7 743.0,1001.6 745.0,1001.3 745.7,1001.2 747.0,1000.6 749.0,998.6 751.0,995.5 753.0,992.0 755.0,988.4 757.0,985.3 758.0,984.0 759.0,982.9 761.0,980.7 763.0,978.6 765.0,976.7 767.0,974.8 769.0,973.1 771.0,971.6 772.8,970.4 773.0,970.3 775.0,969.1 777.0,967.9 779.0,966.7 781.0,965.7 783.0,964.6 785.0,963.7 787.0,962.8 789.0,961.9 791.0,961.2 793.0,960.5 795.0,959.9 797.0,959.4 797.5,959.3 799.0,959.0 801.0,958.6 803.0,958.2 805.0,957.9 807.0,957.6 809.0,957.3 811.0,957.0 813.0,956.7 815.0,956.4 817.0,956.2 819.0,956.0 821.0,955.7 823.0,955.5 825.0,955.3 827.0,955.1 829.0,954.9 831.0,954.7 833.0,954.5 835.0,954.3 837.0,954.1 839.0,953.9 841.0,953.7 843.0,953.5 845.0,953.2 847.0,953.0 849.0,952.7 851.0,952.5 853.0,952.2 855.0,951.9 857.0,951.7 859.0,951.4 861.0,951.1 863.0,950.8 865.0,950.5 867.0,950.2 869.0,950.0 871.0,949.7 873.0,949.4 875.0,949.1 877.0,948.9 879.0,948.6 881.0,948.4 883.0,948.1 885.0,947.9 887.0,947.7 889.0,947.5 891.0,947.4 893.0,947.2 895.0,947.1 896.3,947.0 897.0,947.0 899.0,946.8 901.0,946.7 903.0,946.6 905.0,946.5 907.0,946.4 909.0,946.3 911.0,946.2 913.0,946.1 915.0,946.0 917.0,945.9 919.0,945.8 921.0,945.7 923.0,945.6 925.0,945.5 927.0,945.4 929.0,945.4 931.0,945.3 933.0,945.2 935.0,945.1 937.0,945.0 939.0,945.0 941.0,944.9 943.0,944.8 945.0,944.8 947.0,944.7 949.0,944.7 951.0,944.6 953.0,944.6 955.0,944.5 957.0,944.5 959.0,944.5 961.0,944.5 963.0,944.4 965.0,944.4 967.0,944.4 969.0,944.4 970.4,944.4 971.0,944.4 973.0,944.4 975.0,944.4 977.0,944.4 979.0,944.4 981.0,944.4 983.0,944.4 985.0,944.4 987.0,944.4 989.0,944.4 991.0,944.4 993.0,944.4 995.0,944.4 997.0,944.4 999.0,944.4 1001.0,944.4 1003.0,944.4 1005.0,944.4 1007.0,944.5 1009.0,944.5 1011.0,944.5 1013.0,944.5 1015.0,944.5 1017.0,944.5 1019.0,944.5 1021.0,944.5 1023.0,944.5 1025.0,944.5 1027.0,944.5 1029.0,944.5 1031.0,944.5 1033.0,944.5 1035.0,944.6 1037.0,944.6 1039.0,944.6 1041.0,944.6 1043.0,944.6 1045.0,944.6 1047.0,944.6 1049.0,944.6 1051.0,944.6 1053.0,944.7 1055.0,944.7 1057.0,944.7 1059.0,944.7 1061.0,944.7 1063.0,944.7 1065.0,944.7 1067.0,944.7 1069.0,944.8 1071.0,944.8 1073.0,944.8 1075.0,944.8 1077.0,944.8 1079.0,944.8 1081.0,944.8 1083.0,944.9 1085.0,944.9 1087.0,944.9 1089.0,944.9 1091.0,944.9 1093.0,944.9 1095.0,945.0 1097.0,945.0 1099.0,945.0 1100.0,945.0 1101.0,945.0 1103.0,945.0 1105.0,945.1 1107.0,945.1 1109.0,945.2 1111.0,945.2 1113.0,945.3 1115.0,945.4 1117.0,945.4 1119.0,945.5 1121.0,945.6 1123.0,945.7 1125.0,945.8 1127.0,945.8 1129.0,945.9 1131.0,946.0 1133.0,946.1 1135.0,946.1 1137.0,946.2 1139.0,946.3 1141.0,946.3 1143.0,946.3 1145.0,946.4 1147.0,946.4 1149.0,946.4 1149.4,946.4 1151.0,946.4 1153.0,946.4 1155.0,946.3 1157.0,946.3 1159.0,946.2 1161.0,946.1 1163.0,946.0 1165.0,945.9 1167.0,945.8 1169.0,945.7 1171.0,945.5 1173.0,945.4 1175.0,945.2 1177.0,945.0 1179.0,944.9 1181.0,944.7 1183.0,944.5 1185.0,944.3 1187.0,944.1 1189.0,943.8 1191.0,943.6 1193.0,943.4 1195.0,943.2 1197.0,942.9 1198.8,942.7 1199.0,942.7 1201.0,942.4 1203.0,941.9 1205.0,941.4 1207.0,940.8 1209.0,940.2 1211.0,939.5 1213.0,938.9 1215.0,938.3 1217.0,937.8 1219.0,937.4 1221.0,937.1 1223.0,937.0 1223.5,937.0 1225.0,937.0 1227.0,937.0 1229.0,937.1 1231.0,937.2 1233.0,937.3 1235.0,937.4 1237.0,937.6 1239.0,937.8 1241.0,937.9 1243.0,938.1 1245.0,938.3 1247.0,938.5 1249.0,938.7 1251.0,938.9 1253.0,939.1 1255.0,939.2 1257.0,939.4 1259.0,939.6 1261.0,939.7 1263.0,939.9 1265.0,940.0 1267.0,940.1 1269.0,940.1 1271.0,940.2 1272.8,940.2 1273.0,940.2 1275.0,940.2 1277.0,940.1 1279.0,940.0 1281.0,939.9 1283.0,939.8 1285.0,939.6 1287.0,939.5 1289.0,939.3 1291.0,939.1 1293.0,938.8 1295.0,938.6 1297.0,938.4 1299.0,938.2 1301.0,938.0 1303.0,937.7 1305.0,937.5 1307.0,937.3 1309.0,937.2 1311.0,937.0 1313.0,936.8 1315.0,936.7 1317.0,936.6 1319.0,936.5 1321.0,936.5 1322.2,936.5 1323.0,936.5 1325.0,936.5 1327.0,936.6 1329.0,936.7 1331.0,936.8 1333.0,936.9 1335.0,937.0 1337.0,937.2 1339.0,937.4 1341.0,937.6 1343.0,937.8 1345.0,938.0 1347.0,938.2 1349.0,938.5 1349.4,938.5 1351.0,938.7 1353.0,939.1 1355.0,939.6 1357.0,940.1 1359.0,940.7 1361.0,941.4 1363.0,942.1 1365.0,942.8 1367.0,943.6 1369.0,944.4 1369.1,944.4 1371.0,945.2 1373.0,946.0 1375.0,946.9 1377.0,947.9 1379.0,949.0 1381.0,950.1 1383.0,951.4 1385.0,952.7 1387.0,954.2 1389.0,956.2 1389.6,957.0 1391.0,959.6 1393.0,965.6 1395.0,974.0 1397.0,984.3 1397.3,986.0 1399.0,1000.1 1401.0,1022.4 1401.9,1032.0 1403.0,1043.1 1405.0,1063.4 1406.5,1078.5 1407.0,1083.5 1409.0,1103.0 1411.0,1122.6 1411.2,1124.6 1413.0,1143.2 1415.0,1163.6 1415.8,1170.8 1417.0,1181.1 1419.0,1195.0 1421.0,1203.3 1421.3,1203.5 1423.0,1198.4 1423.5,1196.0 1425.0,1185.0 1426.5,1170.8 1427.0,1166.2 1429.0,1146.7 1431.0,1126.6 1431.2,1124.6 1433.0,1106.6 1435.0,1086.6 1435.8,1078.5 1437.0,1066.1 1439.0,1045.2 1440.4,1032.0 1441.0,1026.7 1443.0,1009.0 1445.0,993.7 1446.5,986.0 1447.0,984.1 1449.0,977.2 1451.0,971.3 1453.0,966.8 1455.0,964.3 1455.8,964.0 1457.0,963.8 1459.0,963.5 1461.0,963.3 1463.0,963.2 1464.0,963.2 1465.0,963.3 1467.0,964.1 1469.0,965.3 1471.0,966.4 1473.0,967.1 1473.8,967.2 1475.0,966.9 1477.0,965.4 1479.0,963.2 1481.0,960.7 1483.0,958.6 1485.0,957.4 1485.7,957.3 1487.0,957.4 1489.0,957.8 1491.0,958.7 1493.0,959.8 1495.0,961.2 1497.0,962.8 1497.5,963.2 1499.0,965.9 1501.0,971.7 1503.0,975.8 1503.5,976.0 1505.0,975.3 1507.0,973.1 1509.0,970.6 1511.0,969.2 1511.4,969.1 1513.0,970.0 1515.0,973.3 1517.0,978.2 1517.3,979.0 1519.0,990.6 1521.0,1012.4 1523.0,1027.8 1523.2,1028.4 1525.0,1031.7 1527.0,1034.1 1529.0,1035.9 1531.0,1038.2 1531.1,1038.3 1533.0,1041.5 1535.0,1045.7 1537.0,1049.7 1539.0,1052.8 1541.0,1054.0 1543.0,1052.6 1545.0,1049.0 1547.0,1043.9 1548.9,1038.3 1549.0,1038.0 1551.0,1027.1 1553.0,1011.5 1555.0,996.8 1556.8,988.9 1557.0,988.5 1559.0,984.6 1561.0,981.8 1562.7,981.0 1563.0,981.0 1565.0,983.4 1567.0,988.2 1569.0,993.5 1571.0,997.6 1572.6,998.8 1573.0,998.7 1575.0,996.9 1577.0,993.1 1579.0,988.2 1581.0,983.1 1583.0,978.6 1585.0,975.7 1586.4,975.0 1587.0,975.1 1589.0,976.1 1591.0,978.0 1593.0,980.5 1595.0,983.3 1596.3,985.0 1597.0,986.0 1599.0,989.8 1601.0,993.4 1602.2,994.8 1603.0,995.4 1605.0,996.3 1607.0,996.9 1609.0,997.9 1610.1,998.8 1611.0,1000.5 1613.0,1008.8 1615.0,1021.4 1616.0,1028.4 1617.0,1039.2 1619.0,1066.4 1620.0,1071.9 1621.0,1071.6 1623.0,1069.5 1625.0,1066.0 1626.0,1064.0 1627.0,1060.8 1629.0,1049.3 1631.0,1033.6 1633.0,1017.0 1635.0,1003.0 1635.8,998.8 1637.0,993.3 1639.0,984.6 1641.0,977.2 1643.0,972.1 1643.7,971.1 1645.0,969.7 1647.0,968.2 1649.0,967.0 1651.0,966.1 1653.0,965.0 1655.0,963.7 1655.6,963.2 1657.0,961.8 1659.0,959.1 1661.0,955.8 1663.0,952.2 1665.0,948.5 1667.0,945.0 1669.0,941.8 1671.0,939.1 1673.0,937.3 1675.0,936.5 1675.3,936.5 1677.0,937.0 1679.0,938.7 1681.0,941.4 1683.0,945.0 1683.2,945.4 1685.0,954.7 1687.0,972.5 1689.0,988.3 1689.1,988.9 1691.0,1000.1 1693.0,1006.5 1695.0,1005.9 1697.0,1004.5 1699.0,1002.7 1701.0,1000.7 1703.0,999.0 1705.0,997.9 1706.0,997.8 1707.0,998.0 1709.0,999.1 1711.0,1001.2 1713.0,1004.1 1715.0,1007.6 1717.0,1011.3 1719.0,1015.2 1721.0,1019.7 1723.0,1025.3 1725.0,1032.0 1727.0,1039.9 1727.8,1043.4 1729.0,1051.4 1731.0,1067.6 1732.2,1071.7 1733.0,1071.7 1735.0,1071.7 1737.0,1071.7 1739.0,1071.7 1741.0,1071.7 1743.0,1071.7 1745.0,1075.5 1747.0,1084.1 1749.0,1093.6 1749.5,1095.6 1751.0,1101.6 1753.0,1109.9 1755.0,1118.3 1757.0,1126.1 1758.2,1130.3 1759.0,1133.1 1761.0,1140.7 1763.0,1147.5 1765.0,1151.6 1765.8,1152.0 1767.0,1151.7 1769.0,1150.2 1771.0,1147.6 1773.0,1144.2 1775.0,1140.3 1775.6,1139.0 1777.0,1135.0 1779.0,1126.5 1781.0,1115.6 1783.0,1103.5 1784.3,1095.6 1785.0,1091.3 1787.0,1077.5 1789.0,1062.2 1791.0,1046.2 1793.0,1030.4 1795.0,1011.9 1797.0,992.5 1799.0,979.6 1799.5,978.2 1801.0,975.7 1803.0,973.2 1805.0,971.9 1806.0,971.7 1807.0,971.8 1809.0,972.3 1811.0,973.0 1813.0,973.7 1814.7,973.9 1815.0,973.9 1817.0,971.8 1819.0,967.5 1821.0,962.3 1823.0,957.3 1823.4,956.5 1825.0,952.9 1827.0,947.8 1829.0,943.1 1831.0,939.8 1832.1,939.1 1833.0,938.9 1835.0,938.4 1837.0,938.1 1839.0,937.7 1841.0,937.5 1843.0,937.3 1845.0,937.1 1847.0,937.0 1849.0,937.0 1849.5,937.0 1851.0,937.5 1853.0,939.4 1855.0,942.1 1856.0,943.5 1857.0,945.5 1859.0,951.8 1861.0,958.5 1863.0,962.7 1863.6,963.0 1865.0,962.4 1867.0,959.8 1869.0,956.1 1871.0,952.5 1871.2,952.2 1873.0,948.8 1875.0,944.2 1877.0,940.0 1879.0,937.4 1880.0,937.0 1881.0,937.0 1883.0,937.1 1885.0,937.4 1887.0,937.7 1889.0,938.1 1891.0,938.6 1893.0,939.1 1895.0,939.9 1897.0,941.3 1899.0,943.2 1901.0,945.4 1903.0,948.0 1905.0,950.7 1906.0,952.2 1907.0,954.1 1909.0,959.5 1911.0,965.9 1913.0,971.3 1914.7,973.9 1915.0,974.1 1917.0,975.4 1919.0,976.3 1921.0,977.1 1923.0,977.7 1925.0,978.2 1927.0,978.9 1929.0,979.8 1930.0,980.4 1931.0,981.1 1933.0,983.1 1935.0,985.5 1937.0,987.9 1939.0,990.0 1940.8,991.3 1941.0,991.4 1943.0,992.2 1945.0,992.8 1947.0,993.3 1949.0,993.8 1951.0,994.3 1953.0,995.2 1953.8,995.6 1955.0,996.7 1957.0,1000.1 1959.0,1004.9 1961.0,1010.2 1963.0,1015.3 1965.0,1019.4 1966.8,1021.7 1967.0,1021.9 1969.0,1023.3 1971.0,1024.6 1973.0,1025.5 1975.0,1026.0 1975.5,1026.0 1977.0,1026.0 1979.0,1026.0 1981.0,1026.0 1983.0,1026.0 1985.0,1026.0 1987.0,1026.0 1988.6,1026.0 1989.0,1026.0 1991.0,1026.7 1993.0,1028.3 1995.0,1030.6 1997.0,1033.3 1999.0,1036.3 2001.0,1039.4 2003.0,1042.3 2003.8,1043.4 2005.0,1045.3 2007.0,1049.1 2009.0,1053.0 2011.0,1055.7 2012.5,1056.5 2013.0,1056.4 2015.0,1055.3 2017.0,1052.8 2019.0,1049.4 2021.0,1045.4 2023.0,1041.2 2025.0,1037.1 2027.0,1033.6 2027.7,1032.5 2029.0,1030.6 2031.0,1027.9 2033.0,1025.2 2035.0,1022.5 2037.0,1019.9 2039.0,1017.4 2040.7,1015.2 2041.0,1014.8 2043.0,1012.3 2045.0,1009.9 2047.0,1007.5 2049.0,1005.2 2051.0,1002.9 2053.0,1000.6 2055.0,998.2 2057.0,995.8 2059.0,993.4 2061.0,990.9 2062.4,989.1 2063.0,988.3 2065.0,985.3 2067.0,982.1 2069.0,978.8 2071.0,975.5 2073.0,972.5 2075.0,969.9 2077.0,967.9 2077.7,967.4 2079.0,966.6 2081.0,965.6 2083.0,964.9 2085.0,964.2 2087.0,963.6 2089.0,962.8 2091.0,961.9 2092.9,960.8 2093.0,960.7 2095.0,959.0 2097.0,956.8 2099.0,954.1 2101.0,951.0 2103.0,947.7 2104.0,946.0" stroke="#808000"/>
<path d="M125.0,722.0L127.0,722.1 129.0,722.1 131.0,722.2 133.0,722.2 135.0,722.3 137.0,722.3 139.0,722.4 141.0,722.4 143.0,722.5 145.0,722.5 147.0,722.6 149.0,722.6 151.0,722.7 153.0,722.7 155.0,722.7 157.0,722.8 159.0,722.8 161.0,722.8 163.0,722.9 165.0,722.9 167.0,722.9 169.0,722.9 171.0,723.0 173.0,723.0 175.0,723.0 177.0,723.0 179.0,723.0 181.0,723.1 183.0,723.1 185.0,723.1 187.0,723.1 189.0,723.1 191.0,723.1 193.0,723.1 195.0,723.1 197.0,723.2 199.0,723.2 201.0,723.2 203.0,723.2 205.0,723.2 207.0,723.2 209.0,723.2 211.0,723.2 213.0,723.2 215.0,723.2 217.0,723.2 218.8,723.2 219.0,723.2 221.0,723.2 223.0,723.2 225.0,723.2 227.0,723.1 229.0,723.1 231.0,723.1 233.0,723.0 235.0,723.0 237.0,723.0 239.0,722.9 241.0,722.9 243.0,722.8 245.0,722.8 247.0,722.7 249.0,722.7 251.0,722.6 253.0,722.5 255.0,722.5 257.0,722.4 259.0,722.4 261.0,722.3 263.0,722.3 265.0,722.2 267.0,722.2 269.0,722.1 271.0,722.1 273.0,722.1 275.0,722.1 277.0,722.0 279.0,722.0 281.0,722.0 283.0,722.0 285.0,722.0 287.0,722.1 289.0,722.3 291.0,722.5 293.0,722.7 295.0,723.0 297.0,723.4 299.0,723.7 301.0,724.1 303.0,724.6 305.0,725.0 307.0,725.5 309.0,726.0 311.0,726.4 313.0,726.9 315.0,727.4 317.0,727.9 317.5,728.0 319.0,728.4 321.0,728.9 323.0,729.4 325.0,730.0 327.0,730.6 329.0,731.2 331.0,731.9 333.0,732.6 335.0,733.3 337.0,734.0 339.0,734.8 341.0,735.6 343.0,736.4 345.0,737.3 347.0,738.1 349.0,739.0 351.0,740.0 353.0,740.9 354.6,741.7 355.0,741.9 357.0,742.9 359.0,744.0 361.0,745.2 363.0,746.5 365.0,747.8 367.0,749.2 369.0,750.6 371.0,752.1 373.0,753.7 375.0,755.3 377.0,757.0 379.0,758.7 379.3,759.0 381.0,760.6 383.0,762.6 385.0,764.8 387.0,767.1 389.0,769.5 391.0,772.0 393.0,774.5 395.0,777.1 397.0,779.7 399.0,782.3 401.0,784.9 403.0,787.4 404.0,788.6 405.0,789.8 407.0,792.3 409.0,794.9 411.0,797.5 413.0,800.2 415.0,802.8 417.0,805.4 419.0,808.0 421.0,810.4 423.0,812.7 425.0,814.9 427.0,816.9 428.6,818.3 429.0,818.6 431.0,820.4 433.0,822.2 435.0,824.0 437.0,825.8 439.0,827.4 441.0,829.0 443.0,830.3 445.0,831.4 447.0,832.3 449.0,832.8 450.9,833.0 451.0,833.0 453.0,832.9 455.0,832.6 457.0,832.2 459.0,831.7 461.0,831.0 463.0,830.2 465.0,829.4 467.0,828.5 469.0,827.5 471.0,826.5 473.0,825.6 475.0,824.6 477.0,823.7 478.0,823.2 479.0,822.7 481.0,821.5 483.0,820.2 485.0,818.7 487.0,817.2 489.0,815.7 491.0,814.4 493.0,813.3 495.0,812.5 497.0,812.0 497.8,812.0 499.0,812.0 501.0,812.1 503.0,812.3 505.0,812.5 507.0,812.8 509.0,813.1 510.0,813.3 511.0,813.6 513.0,814.7 515.0,816.2 517.0,817.9 519.0,819.4 521.0,820.4 522.5,820.7 523.0,820.7 525.0,820.3 527.0,819.6 529.0,818.5 531.0,817.2 533.0,815.7 535.0,814.2 537.0,812.8 539.0,811.5 539.8,811.0 541.0,810.3 543.0,809.0 545.0,807.6 547.0,806.1 549.0,804.6 551.0,803.1 553.0,801.8 555.0,800.6 557.0,799.6 559.0,798.9 561.0,798.5 562.0,798.5 563.0,798.5 565.0,798.9 567.0,799.6 569.0,800.4 571.0,801.5 573.0,802.6 575.0,803.8 577.0,805.0 579.0,806.1 581.0,807.1 583.0,807.8 585.0,808.3 586.7,808.4 587.0,808.4 589.0,807.7 591.0,806.2 593.0,804.1 595.0,801.6 597.0,798.9 599.0,796.2 601.0,793.7 603.0,791.7 604.0,791.0 605.0,790.4 607.0,789.2 609.0,788.1 611.0,787.1 613.0,786.2 615.0,785.3 617.0,784.4 619.0,783.6 621.0,782.8 623.0,781.9 624.7,781.2 625.0,781.1 627.0,780.1 629.0,779.2 631.0,778.2 633.0,777.2 635.0,776.1 637.0,775.1 639.0,774.1 641.0,773.1 643.0,772.2 645.0,771.3 647.0,770.5 649.0,769.7 651.0,769.1 653.0,768.5 655.0,768.0 656.8,767.7 657.0,767.7 659.0,767.4 661.0,767.1 663.0,766.8 665.0,766.5 667.0,766.3 669.0,766.0 671.0,765.8 673.0,765.6 675.0,765.3 677.0,765.1 679.0,765.0 681.0,764.8 683.0,764.6 685.0,764.5 687.0,764.4 689.0,764.2 691.0,764.2 693.0,764.1 695.0,764.0 697.0,764.0 698.8,764.0 699.0,764.0 701.0,764.1 703.0,764.4 705.0,764.7 707.0,765.1 709.0,765.5 711.0,765.9 713.0,766.2 715.0,766.4 716.0,766.4 717.0,766.3 719.0,765.5 721.0,764.1 723.0,762.3 725.0,760.4 727.0,758.7 729.0,757.3 730.9,756.5 731.0,756.5 733.0,756.0 735.0,755.6 737.0,755.3 739.0,754.9 741.0,754.6 743.0,754.3 745.0,754.1 747.0,753.8 749.0,753.6 751.0,753.3 753.0,753.1 755.0,753.0 757.0,752.8 759.0,752.6 761.0,752.5 763.0,752.3 765.0,752.2 767.0,752.0 769.0,751.9 771.0,751.7 772.8,751.6 773.0,751.6 775.0,751.4 777.0,751.3 779.0,751.2 781.0,751.0 783.0,750.9 785.0,750.7 787.0,750.6 789.0,750.5 791.0,750.4 793.0,750.2 795.0,750.1 797.0,750.0 799.0,749.9 801.0,749.8 803.0,749.7 805.0,749.6 807.0,749.5 809.0,749.4 811.0,749.3 813.0,749.3 815.0,749.2 817.0,749.1 819.0,749.1 821.0,749.0 822.2,749.0 823.0,749.0 825.0,748.9 827.0,748.9 829.0,748.9 831.0,748.8 833.0,748.8 835.0,748.7 837.0,748.7 839.0,748.6 841.0,748.6 843.0,748.6 845.0,748.5 847.0,748.5 849.0,748.5 851.0,748.4 853.0,748.4 855.0,748.4 857.0,748.3 859.0,748.3 861.0,748.3 863.0,748.2 865.0,748.2 867.0,748.2 869.0,748.2 871.0,748.1 873.0,748.1 875.0,748.1 877.0,748.1 879.0,748.1 881.0,748.1 883.0,748.0 885.0,748.0 887.0,748.0 889.0,748.0 891.0,748.0 893.0,748.0 895.0,748.0 896.3,748.0 897.0,748.0 899.0,748.0 901.0,748.0 903.0,748.1 905.0,748.1 907.0,748.2 909.0,748.3 911.0,748.4 913.0,748.5 915.0,748.6 917.0,748.7 919.0,748.8 921.0,749.0 923.0,749.1 925.0,749.2 927.0,749.3 929.0,749.5 931.0,749.6 933.0,749.7 935.0,749.9 937.0,750.0 939.0,750.1 941.0,750.2 943.0,750.3 945.0,750.4 945.7,750.4 947.0,750.5 949.0,750.5 951.0,750.6 953.0,750.7 955.0,750.8 957.0,750.9 959.0,751.0 961.0,751.0 963.0,751.1 965.0,751.2 967.0,751.3 969.0,751.4 971.0,751.5 973.0,751.6 975.0,751.7 977.0,751.7 979.0,751.8 981.0,751.9 983.0,752.0 985.0,752.1 987.0,752.1 989.0,752.2 991.0,752.3 993.0,752.3 995.0,752.4 997.0,752.4 999.0,752.5 1001.0,752.6 1003.0,752.6 1005.0,752.6 1007.0,752.7 1009.0,752.7 1011.0,752.7 1013.0,752.8 1015.0,752.8 1017.0,752.8 1019.0,752.8 1019.8,752.8 1021.0,752.7 1023.0,752.1 1025.0,751.1 1027.0,749.9 1029.0,748.7 1031.0,747.6 1033.0,746.9 1034.6,746.7 1035.0,746.7 1037.0,747.9 1039.0,750.2 1041.0,752.7 1043.0,754.7 1044.4,755.3 1045.0,755.4 1047.0,755.7 1049.0,755.9 1051.0,756.2 1053.0,756.4 1055.0,756.7 1057.0,756.9 1059.0,757.1 1061.0,757.3 1063.0,757.4 1065.0,757.6 1067.0,757.7 1069.0,757.9 1071.0,758.0 1073.0,758.1 1075.0,758.2 1077.0,758.3 1079.0,758.4 1081.0,758.5 1083.0,758.5 1085.0,758.6 1087.0,758.7 1089.0,758.7 1091.0,758.7 1093.0,758.8 1095.0,758.8 1097.0,758.8 1099.0,758.8 1100.0,758.8 1101.0,758.8 1103.0,758.7 1105.0,758.5 1107.0,758.3 1109.0,757.9 1111.0,757.5 1113.0,757.1 1115.0,756.6 1117.0,756.1 1119.0,755.6 1121.0,755.1 1123.0,754.6 1125.0,754.1 1127.0,753.6 1129.0,753.1 1131.0,752.7 1133.0,752.3 1135.0,751.9 1137.0,751.7 1139.0,751.5 1141.0,751.4 1142.0,751.4 1143.0,751.4 1145.0,751.5 1147.0,751.8 1149.0,752.1 1151.0,752.5 1153.0,752.9 1155.0,753.3 1157.0,753.8 1159.0,754.2 1161.0,754.5 1163.0,754.8 1165.0,755.0 1166.7,755.0 1167.0,755.0 1169.0,754.8 1171.0,754.4 1173.0,753.9 1175.0,753.4 1177.0,752.9 1179.0,752.6 1180.0,752.6 1181.0,752.6 1183.0,752.6 1185.0,752.6 1187.0,752.6 1189.0,752.6 1191.0,752.6 1193.0,752.6 1195.0,752.6 1197.0,752.6 1199.0,752.6 1201.0,752.6 1203.0,752.6 1205.0,752.0 1207.0,750.7 1209.0,749.2 1211.0,748.2 1212.0,748.0 1213.0,748.0 1215.0,748.1 1217.0,748.3 1219.0,748.5 1221.0,748.8 1223.0,749.0 1225.0,749.3 1227.0,749.6 1229.0,749.8 1231.0,750.0 1233.0,750.1 1235.0,750.3 1237.0,750.4 1239.0,750.6 1241.0,750.7 1243.0,750.8 1245.0,750.9 1247.0,751.0 1249.0,751.1 1251.0,751.2 1253.0,751.3 1255.0,751.3 1257.0,751.3 1259.0,751.0 1261.0,750.2 1263.0,749.2 1265.0,748.0 1267.0,746.8 1269.0,745.8 1271.0,745.1 1272.4,745.0 1273.0,745.2 1275.0,747.4 1277.0,750.8 1279.0,753.5 1280.1,754.0 1281.0,753.9 1283.0,753.4 1285.0,752.3 1287.0,750.9 1289.0,749.2 1291.0,747.5 1293.0,745.9 1295.0,744.5 1297.0,743.4 1299.0,742.8 1300.0,742.7 1301.0,743.3 1303.0,746.7 1305.0,751.1 1307.0,753.7 1307.4,753.8 1309.0,753.0 1311.0,750.3 1313.0,746.4 1315.0,742.3 1317.0,738.7 1319.0,736.7 1319.8,736.5 1321.0,736.9 1323.0,738.8 1325.0,741.6 1327.0,744.5 1329.0,746.8 1330.9,747.7 1331.0,747.7 1333.0,746.5 1335.0,743.5 1337.0,739.7 1339.0,735.9 1341.0,733.0 1343.0,731.6 1343.2,731.6 1345.0,732.1 1347.0,733.7 1349.0,735.9 1351.0,738.4 1353.0,740.6 1355.0,742.2 1356.8,742.7 1357.0,742.7 1359.0,740.7 1361.0,736.3 1363.0,730.7 1365.0,725.2 1367.0,721.0 1369.0,719.3 1371.0,720.0 1373.0,721.7 1375.0,724.2 1377.0,727.1 1379.0,730.0 1381.0,732.8 1382.8,734.7 1383.0,734.9 1385.0,736.8 1387.0,738.8 1389.0,740.8 1391.0,742.6 1393.0,744.2 1395.0,745.4 1397.0,746.1 1398.2,746.2 1399.0,746.0 1401.0,744.3 1403.0,741.8 1405.0,740.0 1405.9,739.8 1407.0,739.8 1409.0,740.1 1411.0,740.8 1413.0,741.7 1415.0,742.9 1417.0,744.5 1418.8,746.2 1419.0,746.5 1421.0,753.5 1422.6,761.6 1423.0,763.7 1425.0,776.7 1426.5,785.0 1427.0,787.1 1429.0,794.9 1430.9,798.3 1431.0,798.3 1433.0,796.9 1435.0,794.0 1437.0,791.5 1438.3,790.9 1439.0,791.1 1441.0,794.1 1443.0,799.4 1445.0,805.8 1445.7,808.0 1447.0,812.8 1449.0,822.5 1451.0,833.7 1453.0,845.0 1455.0,855.0 1455.6,857.5 1457.0,863.2 1459.0,871.1 1461.0,877.8 1463.0,882.2 1465.0,885.0 1467.0,887.5 1469.0,889.7 1471.0,891.6 1473.0,893.0 1475.0,894.1 1477.0,894.6 1477.8,894.6 1479.0,894.1 1481.0,891.0 1483.0,886.0 1485.0,879.5 1487.0,872.4 1487.7,869.9 1489.0,863.4 1491.0,848.4 1493.0,831.2 1495.0,816.3 1497.0,808.4 1497.5,808.0 1499.0,808.0 1501.0,808.0 1503.0,808.0 1505.0,808.0 1507.0,808.0 1507.4,808.0 1509.0,807.5 1511.0,805.6 1513.0,803.1 1514.8,800.7 1515.0,800.4 1517.0,796.9 1519.0,792.3 1521.0,787.8 1523.0,784.5 1524.7,783.5 1525.0,783.5 1527.0,785.1 1529.0,788.7 1530.9,793.3 1531.0,793.6 1533.0,806.9 1535.0,827.5 1537.0,845.2 1539.0,856.4 1541.0,865.5 1543.0,874.0 1545.0,883.2 1547.0,894.6 1549.0,913.7 1551.0,938.0 1553.0,956.9 1554.3,961.2 1555.0,961.0 1557.0,958.0 1559.0,952.3 1561.0,944.9 1563.0,936.6 1564.2,931.6 1565.0,927.8 1567.0,915.1 1569.0,899.1 1571.0,882.1 1573.0,866.3 1575.0,853.7 1576.5,847.7 1577.0,846.3 1579.0,841.2 1581.0,836.6 1583.0,832.4 1585.0,828.7 1587.0,825.4 1589.0,822.4 1591.0,819.7 1593.0,817.3 1595.0,815.0 1597.0,812.9 1599.0,811.0 1600.0,810.0 1601.0,809.1 1603.0,807.4 1605.0,805.9 1607.0,804.6 1609.0,803.3 1610.3,802.5 1611.0,802.1 1613.0,800.8 1615.0,799.4 1617.0,798.1 1619.0,796.8 1621.0,795.6 1623.0,794.7 1625.0,794.0 1627.0,793.6 1628.2,793.5 1629.0,793.6 1631.0,794.2 1633.0,795.3 1635.0,796.4 1637.0,797.2 1638.5,797.4 1639.0,797.3 1641.0,795.9 1643.0,792.9 1645.0,788.8 1647.0,784.2 1649.0,779.4 1651.0,775.1 1653.0,771.6 1654.0,770.4 1655.0,769.3 1657.0,767.2 1659.0,765.2 1661.0,763.1 1663.0,761.2 1665.0,759.4 1667.0,757.8 1669.0,756.4 1671.0,755.3 1673.0,754.4 1675.0,753.9 1677.0,753.7 1679.0,753.8 1681.0,754.2 1683.0,754.7 1685.0,755.3 1687.0,756.0 1689.0,756.6 1691.0,757.1 1693.0,757.5 1695.0,757.6 1697.0,757.2 1699.0,756.2 1701.0,754.8 1703.0,753.1 1705.0,751.4 1707.0,750.0 1709.0,749.0 1710.4,748.6 1711.0,748.5 1713.0,748.3 1715.0,748.1 1717.0,747.9 1719.0,747.7 1721.0,747.5 1723.0,747.4 1725.0,747.4 1727.0,747.3 1728.4,747.3 1729.0,747.3 1731.0,747.4 1733.0,747.6 1735.0,748.0 1737.0,748.5 1739.0,749.1 1741.0,749.8 1741.2,749.9 1743.0,752.8 1745.0,759.0 1747.0,765.1 1749.0,767.9 1751.0,767.9 1753.0,767.9 1755.0,767.9 1757.0,767.9 1759.0,767.9 1761.0,767.9 1761.8,767.9 1763.0,769.6 1765.0,777.5 1767.0,787.2 1769.0,793.2 1769.5,793.5 1771.0,792.8 1773.0,790.0 1775.0,785.9 1777.0,781.2 1777.2,780.7 1779.0,774.4 1781.0,764.4 1783.0,754.3 1785.0,747.3 1787.0,743.0 1789.0,739.2 1791.0,735.8 1793.0,732.8 1795.0,730.2 1797.0,728.1 1799.0,726.4 1800.3,725.5 1801.0,725.1 1803.0,723.8 1805.0,722.7 1807.0,721.8 1809.0,721.0 1811.0,720.5 1813.0,720.3 1815.0,722.1 1817.0,726.6 1819.0,732.3 1821.0,738.0 1823.0,742.2 1824.7,743.5 1825.0,743.5 1827.0,742.7 1829.0,741.0 1831.0,738.5 1833.0,735.5 1835.0,732.3 1837.0,728.9 1839.0,725.7 1841.0,722.9 1843.0,720.7 1845.0,719.3 1846.5,719.0 1847.0,719.0 1849.0,719.5 1851.0,720.6 1853.0,722.2 1855.0,724.3 1857.0,726.8 1859.0,729.5 1861.0,732.5 1863.0,735.7 1865.0,738.9 1867.0,742.2 1869.0,746.0 1871.0,750.7 1873.0,755.9 1875.0,761.5 1877.0,767.1 1877.3,767.9 1879.0,773.2 1881.0,780.7 1883.0,788.6 1885.0,796.1 1887.0,802.1 1889.0,805.7 1890.2,806.4 1891.0,806.3 1893.0,805.5 1895.0,804.0 1897.0,801.9 1899.0,799.3 1901.0,796.4 1903.0,793.4 1905.0,790.3 1907.0,787.4 1908.2,785.8 1909.0,784.7 1911.0,781.5 1913.0,777.9 1915.0,773.9 1917.0,769.9 1919.0,766.0 1921.0,762.4 1923.0,759.3 1925.0,756.9 1927.0,755.4 1928.7,755.0 1929.0,755.0 1931.0,755.1 1933.0,755.4 1935.0,755.8 1937.0,756.4 1939.0,757.1 1941.0,757.8 1943.0,758.6 1945.0,759.5 1946.7,760.2 1947.0,760.3 1949.0,761.3 1951.0,762.3 1953.0,763.5 1955.0,764.9 1957.0,766.6 1959.0,768.4 1961.0,770.6 1963.0,773.2 1964.7,775.6 1965.0,776.1 1967.0,780.9 1969.0,788.0 1971.0,797.1 1973.0,807.6 1975.0,819.2 1977.0,836.8 1979.0,860.3 1981.0,881.4 1982.6,891.0 1983.0,892.2 1985.0,896.3 1985.2,896.3 1987.0,894.4 1989.0,888.8 1991.0,880.9 1993.0,872.3 1995.0,864.5 1995.5,862.9 1997.0,857.8 1999.0,850.1 2001.0,842.1 2003.0,834.7 2005.0,828.8 2007.0,825.1 2008.3,824.4 2009.0,824.5 2011.0,826.0 2013.0,828.9 2015.0,832.9 2017.0,837.5 2019.0,842.5 2021.0,847.5 2023.0,853.1 2025.0,860.1 2027.0,868.0 2029.0,876.4 2031.0,885.0 2033.0,893.3 2035.0,901.0 2036.6,906.5 2037.0,907.8 2039.0,914.9 2041.0,922.3 2043.0,928.8 2045.0,933.3 2046.8,934.8 2047.0,934.8 2049.0,932.8 2051.0,928.0 2053.0,921.3 2055.0,913.5 2057.0,905.3 2059.0,897.7 2061.0,891.4 2062.2,888.6 2063.0,887.1 2065.0,884.1 2067.0,881.6 2069.0,879.1 2071.0,876.0 2072.5,873.0 2073.0,871.8 2075.0,865.2 2077.0,856.2 2079.0,845.5 2081.0,833.5 2083.0,820.6 2085.0,807.5 2087.0,794.6 2088.0,788.4 2089.0,782.2 2091.0,769.0 2093.0,755.2 2095.0,741.2 2097.0,727.2 2098.2,719.0 2099.0,713.6 2101.0,700.1 2103.0,686.7 2104.0,680.0" stroke="#0000ff"/>
<path d="M125.0,469.6L127.0,469.6 129.0,469.6 131.0,469.6 132.3,469.6 133.0,469.6 135.0,469.8 137.0,470.1 139.0,470.6 141.0,471.2 143.0,471.9 145.0,472.6 147.0,473.5 149.0,474.3 151.0,475.2 153.0,476.0 155.0,476.8 157.0,477.5 159.0,478.2 159.5,478.3 161.0,478.7 163.0,479.4 165.0,480.0 167.0,480.7 169.0,481.3 171.0,481.9 173.0,482.4 175.0,482.8 177.0,483.1 179.0,483.2 179.3,483.2 181.0,482.7 183.0,481.3 185.0,479.1 187.0,476.6 189.0,474.2 191.0,472.2 193.0,471.1 194.0,470.9 195.0,471.0 197.0,471.7 199.0,472.8 201.0,474.2 203.0,475.7 205.0,477.0 207.0,477.9 209.0,478.3 211.0,477.9 213.0,476.9 215.0,475.5 217.0,473.8 219.0,472.1 221.0,470.5 223.0,469.2 225.0,468.5 226.0,468.4 227.0,468.4 229.0,468.4 231.0,468.5 233.0,468.6 235.0,468.8 237.0,468.9 239.0,469.1 241.0,469.3 243.0,469.5 243.5,469.6 245.0,469.8 247.0,470.4 249.0,471.1 251.0,471.9 253.0,473.0 255.0,474.1 255.8,474.6 257.0,475.7 259.0,478.6 261.0,482.1 263.0,485.7 265.0,488.3 267.0,489.4 269.0,489.0 271.0,488.0 273.0,486.5 275.0,484.6 277.0,482.4 279.0,480.0 281.0,477.6 283.0,475.2 285.0,473.0 287.0,471.1 289.0,469.6 291.0,468.7 292.8,468.4 293.0,468.4 295.0,468.4 297.0,468.4 299.0,468.4 301.0,468.4 303.0,468.4 305.0,468.4 307.0,468.4 309.0,468.4 311.0,468.4 313.0,468.4 315.0,468.4 317.0,468.6 319.0,469.3 321.0,470.3 323.0,471.6 325.0,473.1 327.0,474.6 329.0,476.2 330.0,477.0 331.0,477.8 333.0,480.0 335.0,482.5 337.0,485.3 339.0,488.2 341.0,490.9 343.0,493.4 345.0,495.4 347.0,496.8 349.0,497.7 351.0,498.3 353.0,498.9 355.0,499.3 357.0,499.8 359.0,500.4 361.0,501.2 362.0,501.7 363.0,502.3 365.0,504.2 367.0,506.7 369.0,509.7 371.0,513.0 373.0,516.5 375.0,520.0 377.0,523.4 379.0,526.4 381.0,529.1 383.0,531.7 385.0,534.3 387.0,537.0 389.0,539.7 391.0,542.7 391.6,543.7 393.0,546.1 395.0,550.0 397.0,554.1 399.0,558.4 401.0,562.6 403.0,566.6 404.0,568.4 405.0,570.1 407.0,573.5 409.0,576.7 411.0,579.8 413.0,582.9 415.0,586.0 416.3,588.0 417.0,589.1 419.0,592.4 421.0,595.8 423.0,599.2 425.0,602.5 427.0,605.5 429.0,608.2 431.0,610.4 433.0,612.1 435.0,613.6 437.0,614.9 439.0,616.3 441.0,617.8 443.0,619.7 445.0,622.1 447.0,624.7 449.0,627.4 451.0,629.9 453.0,632.1 455.0,633.8 457.0,634.8 458.3,635.0 459.0,635.0 461.0,634.8 463.0,634.5 465.0,634.1 467.0,633.6 469.0,632.9 471.0,632.3 473.0,631.6 475.0,630.9 477.0,630.3 478.0,630.0 479.0,629.7 481.0,629.0 483.0,628.2 485.0,627.3 487.0,626.4 489.0,625.5 491.0,624.6 493.0,623.7 495.0,623.0 497.0,622.4 499.0,621.9 501.0,621.6 502.7,621.5 503.0,621.5 505.0,621.6 507.0,621.8 509.0,622.1 511.0,622.4 513.0,622.8 515.0,623.2 517.0,623.5 519.0,623.8 521.0,624.0 522.5,624.0 523.0,624.0 525.0,623.6 527.0,622.8 529.0,621.7 531.0,620.3 533.0,618.6 535.0,616.8 537.0,614.9 539.0,613.0 541.0,611.1 543.0,609.4 544.7,608.0 545.0,607.8 547.0,606.1 549.0,604.4 551.0,602.5 553.0,600.5 555.0,598.6 557.0,596.7 559.0,594.8 561.0,593.1 563.0,591.5 565.0,590.1 567.0,589.0 569.0,588.1 569.4,588.0 571.0,587.5 573.0,587.1 575.0,586.7 577.0,586.3 579.0,586.1 581.0,585.8 583.0,585.6 585.0,585.3 587.0,585.0 589.0,584.6 591.0,584.1 593.0,583.5 594.0,583.2 595.0,582.7 597.0,581.3 599.0,579.2 601.0,576.6 603.0,573.9 605.0,571.0 607.0,568.3 608.9,566.0 609.0,565.9 611.0,563.7 613.0,561.4 615.0,559.3 617.0,557.1 619.0,554.9 621.0,552.7 623.0,550.5 624.7,548.6 625.0,548.3 627.0,545.8 629.0,543.3 631.0,540.6 633.0,538.1 635.0,535.7 637.0,533.5 639.0,531.8 639.5,531.4 641.0,530.4 643.0,529.3 645.0,528.3 647.0,527.3 649.0,526.5 651.0,525.6 653.0,524.7 654.3,524.0 655.0,523.6 657.0,522.4 659.0,521.0 661.0,519.6 663.0,518.1 665.0,516.6 667.0,515.2 669.0,514.0 671.0,513.0 673.0,512.2 675.0,511.7 676.5,511.6 677.0,511.6 679.0,511.9 681.0,512.4 683.0,513.2 685.0,514.3 687.0,515.6 689.0,517.1 691.0,518.8 693.0,520.7 693.8,521.5 695.0,523.2 697.0,527.7 699.0,533.1 701.0,538.3 701.2,538.8 703.0,543.5 705.0,549.1 707.0,553.5 708.6,554.8 709.0,554.8 711.0,553.6 713.0,551.3 715.0,548.4 717.0,545.5 719.0,543.4 721.0,542.5 723.0,542.8 725.0,543.4 727.0,544.3 729.0,545.2 731.0,545.9 733.0,546.2 733.3,546.2 735.0,545.9 737.0,544.8 739.0,543.1 741.0,541.0 743.0,538.6 745.0,536.2 747.0,533.8 749.0,531.7 751.0,530.0 753.0,529.0 755.0,528.4 757.0,527.9 759.0,527.5 761.0,527.1 763.0,526.8 765.0,526.5 767.0,526.2 769.0,526.0 771.0,525.6 773.0,525.3 775.0,524.8 777.0,524.3 777.8,524.0 779.0,523.5 781.0,522.3 783.0,520.7 785.0,518.9 787.0,517.2 789.0,515.6 791.0,514.5 792.6,514.0 793.0,513.9 795.0,513.6 797.0,513.3 799.0,513.0 801.0,512.7 803.0,512.5 805.0,512.2 807.0,512.1 809.0,511.9 811.0,511.8 813.0,511.7 815.0,511.6 817.0,511.6 817.3,511.6 819.0,511.7 821.0,512.2 823.0,512.8 825.0,513.6 827.0,514.3 829.0,514.9 831.0,515.3 832.0,515.3 833.0,515.2 835.0,514.4 837.0,513.1 839.0,511.4 841.0,509.7 843.0,508.2 845.0,507.1 847.0,506.7 849.0,506.7 851.0,506.8 853.0,507.0 855.0,507.1 857.0,507.4 859.0,507.6 861.0,507.9 861.7,508.0 863.0,508.3 865.0,509.3 867.0,510.6 869.0,512.0 871.0,513.2 873.0,513.9 874.0,514.0 875.0,514.0 877.0,513.8 879.0,513.6 881.0,513.2 883.0,512.7 885.0,512.2 887.0,511.5 889.0,510.8 891.0,510.1 893.0,509.4 895.0,508.7 897.0,507.9 899.0,507.2 901.0,506.5 903.0,505.9 905.0,505.4 907.0,504.9 909.0,504.6 911.0,504.3 913.0,504.2 913.6,504.2 915.0,505.0 917.0,508.0 919.0,511.3 921.0,512.8 923.0,512.4 925.0,511.5 927.0,510.1 929.0,508.4 931.0,506.5 933.0,504.7 935.0,503.0 937.0,501.6 939.0,500.8 940.7,500.5 941.0,500.5 943.0,500.7 945.0,501.1 947.0,501.7 949.0,502.4 951.0,503.2 953.0,503.9 955.0,504.6 957.0,505.2 958.0,505.4 959.0,505.6 961.0,506.0 963.0,506.4 965.0,506.8 967.0,507.2 969.0,507.5 971.0,507.8 973.0,507.9 975.0,508.0 975.3,508.0 977.0,507.7 979.0,506.9 981.0,505.5 983.0,503.8 985.0,501.9 987.0,500.0 989.0,498.1 991.0,496.4 993.0,495.1 995.0,494.3 997.0,493.8 999.0,493.3 1001.0,492.9 1003.0,492.5 1005.0,492.1 1007.0,491.7 1009.0,491.4 1011.0,491.2 1013.0,490.9 1015.0,490.8 1017.0,490.7 1019.0,490.6 1019.8,490.6 1021.0,492.8 1023.0,501.3 1024.7,505.4 1025.0,505.4 1027.0,504.4 1029.0,502.4 1031.0,500.2 1033.0,498.5 1034.6,498.0 1035.0,498.0 1037.0,498.0 1039.0,498.2 1041.0,498.3 1043.0,498.5 1045.0,498.8 1047.0,499.2 1049.0,499.6 1051.0,500.0 1053.0,500.6 1055.0,501.1 1056.8,501.7 1057.0,501.8 1059.0,503.8 1061.0,507.4 1063.0,511.7 1065.0,515.8 1067.0,519.0 1069.0,520.2 1071.0,519.8 1073.0,518.7 1075.0,517.0 1077.0,515.0 1079.0,512.8 1081.0,510.6 1083.0,508.6 1085.0,506.9 1087.0,505.8 1089.0,505.4 1091.0,505.6 1093.0,506.1 1095.0,506.8 1097.0,507.7 1099.0,508.6 1100.0,509.0 1101.0,509.4 1103.0,510.5 1105.0,511.8 1107.0,513.3 1109.0,514.8 1111.0,516.3 1113.0,517.7 1115.0,519.0 1117.0,520.1 1119.0,521.0 1121.0,521.4 1122.2,521.5 1123.0,521.5 1125.0,520.9 1127.0,519.8 1129.0,518.3 1131.0,516.2 1133.0,513.8 1134.6,511.6 1135.0,510.8 1137.0,501.7 1139.0,488.9 1141.0,478.9 1142.0,477.0 1143.0,476.6 1145.0,475.9 1147.0,475.3 1149.0,474.9 1151.0,474.7 1153.0,474.6 1155.0,476.9 1157.0,482.8 1159.0,490.5 1161.0,498.4 1163.0,504.7 1165.0,507.9 1165.4,508.0 1167.0,507.1 1169.0,503.7 1171.0,498.8 1173.0,493.4 1175.0,488.4 1177.0,484.7 1179.0,483.2 1181.0,483.5 1183.0,484.4 1185.0,485.7 1187.0,487.3 1189.0,489.3 1191.0,491.5 1191.4,491.9 1193.0,494.9 1195.0,501.0 1197.0,508.0 1199.0,513.8 1201.0,516.5 1201.2,516.5 1203.0,515.1 1205.0,511.0 1207.0,504.9 1208.6,499.3 1209.0,497.5 1211.0,480.7 1213.0,465.8 1213.6,464.7 1215.0,464.7 1217.0,464.9 1219.0,465.2 1221.0,465.8 1223.0,466.6 1225.0,467.7 1226.0,468.4 1227.0,477.5 1228.4,491.9 1229.0,491.7 1231.0,488.8 1233.0,483.3 1235.0,476.8 1237.0,470.6 1239.0,466.1 1240.7,464.7 1241.0,464.7 1243.0,464.8 1245.0,465.0 1247.0,465.3 1249.0,465.6 1250.6,466.0 1251.0,466.2 1253.0,468.5 1255.0,472.5 1257.0,476.9 1259.0,480.5 1260.5,482.0 1261.0,482.2 1263.0,483.1 1265.0,483.9 1267.0,484.7 1269.0,485.3 1271.0,486.0 1273.0,486.5 1275.0,487.0 1277.0,487.5 1279.0,487.9 1281.0,488.2 1283.0,488.6 1285.0,488.9 1287.0,489.2 1289.0,489.5 1291.0,489.7 1293.0,490.0 1295.0,490.3 1297.0,490.5 1297.5,490.6 1299.0,490.8 1301.0,491.1 1303.0,491.4 1305.0,491.6 1307.0,491.8 1309.0,491.9 1310.0,491.9 1311.0,491.5 1313.0,488.6 1315.0,484.2 1317.0,480.0 1319.0,477.3 1319.8,477.0 1321.0,477.3 1323.0,479.1 1325.0,481.8 1327.0,484.9 1329.0,487.5 1331.0,489.2 1332.0,489.4 1333.0,489.3 1335.0,488.8 1337.0,487.9 1339.0,486.6 1341.0,485.0 1343.0,483.3 1345.0,481.4 1347.0,479.5 1349.0,476.7 1351.0,472.8 1353.0,468.8 1355.0,465.8 1356.8,464.7 1357.0,464.7 1359.0,466.6 1361.0,471.2 1363.0,477.9 1364.3,483.0" stroke="#ff00ff" stroke-width="15"/>
<path d="M1356.8,464.7L1358.8,466.5 1360.8,471.1 1362.8,477.5 1364.3,483.0 1364.8,485.1 1366.8,497.3 1368.6,511.4 1368.8,513.1 1370.8,534.4 1371.4,540.0 1372.8,551.6 1374.8,565.2 1375.7,568.6 1376.8,571.2 1378.8,575.0 1380.8,576.9 1381.4,577.0 1382.8,576.2 1384.8,572.9 1386.8,568.8 1388.6,565.7 1388.8,565.4 1390.8,562.5 1392.8,559.7 1394.8,557.6 1396.4,557.0 1396.8,557.3 1398.8,565.7 1400.8,579.3 1401.4,583.0 1402.8,591.8 1404.8,605.4 1405.7,611.4 1406.8,618.7 1408.8,632.1 1410.8,644.0 1411.4,647.0 1412.8,653.5 1414.8,661.9 1416.8,668.0 1417.1,668.6 1418.8,671.9 1420.8,674.3 1421.4,674.5 1422.8,673.8 1424.8,671.3 1425.0,671.0 1426.8,668.0 1428.6,663.0 1428.8,662.2 1430.8,646.6 1432.8,626.6 1432.9,625.7 1434.8,608.5 1436.8,592.0 1437.1,590.0 1438.8,578.7 1440.8,569.3 1441.4,568.6 1442.8,568.8 1444.8,569.5 1446.8,570.5 1448.6,571.4 1448.8,571.5 1450.8,572.6 1452.8,573.8 1454.8,575.1 1456.8,576.2 1458.8,576.9 1460.0,577.0 1460.8,577.0 1462.8,576.7 1464.8,576.1 1466.8,575.4 1468.8,574.7 1470.0,574.3 1470.8,574.1 1472.8,573.6 1474.8,573.2 1476.8,572.6 1478.8,571.7 1480.2,570.9 1480.8,569.9 1482.8,560.9 1484.8,551.1 1485.2,550.0 1486.8,546.8 1488.8,543.8 1490.8,541.2 1492.8,538.8 1493.0,538.5 1494.8,535.7 1496.8,532.6 1498.8,530.9 1499.2,530.8 1500.8,531.0 1502.8,531.7 1504.8,533.1 1506.8,535.2 1507.0,535.4 1508.8,544.7 1509.0,545.0 1510.8,545.4 1512.8,545.6 1514.8,545.7 1516.2,546.0 1516.8,546.4 1518.8,550.6 1520.8,557.0 1522.8,565.9 1524.8,576.9 1525.4,580.0 1526.8,586.4 1528.8,595.8 1530.0,603.0 1530.8,609.8 1532.8,631.8 1533.0,633.8 1534.8,651.5 1536.2,664.6 1536.8,670.0 1538.8,687.2 1540.8,703.0 1542.8,718.0 1544.8,730.9 1545.4,733.8 1546.8,739.9 1548.8,745.8 1549.2,746.0 1550.8,743.6 1552.5,738.0 1552.8,736.8 1554.6,726.0 1554.8,724.6 1556.8,708.1 1558.8,690.7 1559.2,687.7 1560.8,674.7 1562.3,668.0 1562.8,668.0 1564.8,668.0 1566.8,668.0 1568.8,668.0 1570.0,668.0 1570.8,668.2 1572.8,669.8 1574.8,671.7 1576.2,672.3 1576.8,671.1 1578.8,655.2 1580.8,633.8 1582.8,609.5 1583.8,603.0 1584.8,601.9 1586.8,600.5 1588.8,599.6 1590.8,598.9 1591.5,598.5 1592.8,597.8 1594.8,596.8 1596.8,595.8 1598.8,594.7 1600.0,594.0 1600.8,593.5 1602.8,591.7 1604.8,589.8 1606.8,588.0 1608.8,586.8 1610.3,586.5 1610.8,586.7 1612.8,590.0 1614.8,596.4 1616.8,604.6 1618.0,609.6 1618.8,613.4 1620.8,626.4 1622.8,641.6 1624.8,655.8 1625.7,661.0 1626.8,666.9 1628.8,677.9 1630.8,687.7 1632.8,694.3 1634.0,696.0 1634.8,696.4 1636.8,697.2 1638.8,697.8 1640.8,698.0 1641.0,698.0 1642.8,697.9 1644.8,697.5 1646.8,696.9 1648.8,696.0 1650.8,691.8 1652.8,682.6 1654.8,671.0 1656.5,661.0 1656.8,659.3 1658.8,645.7 1660.8,629.7 1662.8,613.0 1664.8,597.2 1666.8,584.0 1668.8,572.9 1670.8,562.4 1672.8,552.8 1674.8,544.6 1676.8,538.2 1677.0,537.7 1678.8,533.0 1680.8,528.0 1682.8,523.4 1684.8,519.5 1686.8,516.6 1688.8,514.9 1690.0,514.6 1690.8,515.0 1692.8,518.8 1694.8,525.2 1696.8,532.5 1697.6,535.2 1698.8,540.1 1700.8,549.7 1702.7,555.7 1702.8,555.8 1704.8,558.0 1706.8,559.3 1708.8,560.4 1710.8,561.5 1712.8,563.2 1713.0,563.4 1714.8,565.8 1716.8,569.2 1718.8,573.4 1720.8,578.0 1722.8,582.8 1723.3,584.0 1724.8,588.6 1726.8,596.5 1728.8,603.5 1730.8,607.0 1731.0,607.0 1732.8,605.9 1734.8,602.7 1736.8,598.2 1738.8,593.4 1740.8,589.4 1742.8,586.9 1743.8,586.5 1744.8,586.6 1746.8,587.0 1748.8,587.8 1750.8,589.0 1752.8,590.6 1754.8,592.4 1756.6,594.2 1756.8,594.5 1758.8,600.4 1760.8,610.5 1762.8,621.7 1764.8,631.0 1766.8,635.3 1767.0,635.3 1768.8,635.0 1770.8,633.7 1772.8,631.4 1774.8,627.9 1776.8,623.1 1777.0,622.5 1778.8,588.7 1779.8,571.0 1780.8,563.2 1782.8,549.2 1784.8,537.2 1786.8,527.1 1788.8,519.1 1790.8,513.1 1792.8,509.1 1794.8,507.1 1795.0,507.0 1796.8,506.4 1798.8,505.8 1800.8,505.2 1802.8,504.8 1804.8,504.6 1806.8,504.4 1808.0,504.4 1808.8,504.9 1810.8,508.9 1812.8,512.0 1813.0,512.0 1814.8,511.7 1816.8,510.8 1818.8,509.4 1820.8,507.4 1822.8,505.1 1823.4,504.4 1824.8,500.8 1826.8,491.5 1828.8,481.7 1830.8,476.1 1831.0,476.0 1832.8,475.3 1834.8,474.9 1836.8,474.6 1838.8,474.2 1840.8,473.7 1841.4,473.5 1842.8,472.4 1844.8,469.8 1846.8,467.2 1848.8,465.8 1849.0,465.8 1850.8,466.7 1852.8,469.5 1854.8,473.7 1856.8,478.7 1858.8,488.7 1860.8,504.2 1862.8,519.3 1864.5,527.5 1864.8,528.3 1866.8,533.7 1868.8,538.6 1870.8,542.9 1872.8,546.6 1874.8,549.6 1876.8,551.7 1878.8,552.8 1880.0,553.0 1880.8,552.9 1882.8,551.9 1884.8,550.0 1886.8,547.6 1888.8,544.8 1890.8,542.1 1892.8,539.8 1894.8,538.0 1895.3,537.7 1896.8,537.1 1898.8,536.4 1900.0,535.7 1900.8,534.3 1902.8,525.2 1904.8,512.4 1906.8,501.3 1908.2,497.3 1908.8,496.6 1910.8,494.9 1912.8,493.7 1914.8,492.7 1916.5,491.8 1916.8,491.6 1918.8,490.6 1920.8,489.8 1922.8,489.0 1924.8,488.0 1926.8,486.8 1927.5,486.3 1928.8,484.8 1930.8,480.9 1932.8,476.1 1934.8,471.4 1936.8,468.1 1938.5,467.0 1938.8,467.0 1940.8,467.9 1942.8,469.7 1944.8,472.1 1946.8,474.8 1948.8,477.3 1949.5,478.0 1950.8,479.3 1952.8,481.5 1954.8,483.6 1956.8,485.5 1957.7,486.3 1958.8,487.1 1960.8,488.1 1962.8,489.1 1964.8,490.5 1966.0,491.8 1966.8,493.6 1968.8,503.7 1970.8,519.4 1971.4,524.7 1972.8,545.0 1974.2,566.0 1974.8,572.1 1976.8,590.5 1978.3,596.2 1978.8,595.9 1980.8,589.3 1982.8,578.1 1984.8,567.6 1985.2,566.0 1986.8,560.2 1988.8,553.2 1990.8,547.0 1992.8,542.2 1993.4,541.2 1994.8,539.0 1996.8,536.0 1998.8,533.3 2000.8,531.0 2002.8,529.2 2004.8,528.0 2006.8,527.5 2007.0,527.5 2008.8,527.9 2010.8,529.3 2012.8,531.4 2014.8,534.0 2016.8,536.8 2018.0,538.5 2018.8,539.6 2020.8,542.7 2022.8,546.7 2024.8,552.0 2026.4,557.7 2026.8,560.1 2028.8,579.0 2029.0,579.7 2030.8,582.5 2032.8,584.2 2034.8,585.4 2036.8,587.2 2037.4,588.0 2038.8,590.8 2040.8,596.5 2042.8,603.8 2044.8,612.0 2045.6,615.4 2046.8,622.5 2048.8,635.3 2049.7,637.4 2050.8,636.4 2052.8,630.8 2054.8,622.6 2056.6,615.4 2056.8,614.7 2058.8,606.9 2060.8,598.5 2062.0,593.4 2062.8,589.7 2064.8,578.9 2066.8,570.4 2067.6,568.7 2068.8,567.5 2070.8,566.5 2072.8,565.8 2074.8,564.5 2075.8,563.2 2076.8,554.9 2078.6,524.7 2078.8,521.4 2080.8,481.8 2081.3,478.0 2082.8,475.4 2084.8,473.4 2086.8,472.2 2088.8,471.3 2090.8,469.9 2092.3,468.0 2092.8,467.2 2094.8,462.2 2096.8,453.2 2097.0,452.0 2098.8,421.4 2099.5,410.0 2100.8,397.9 2102.8,382.0 2103.0,380.0 2104.8,358.2 2106.0,341.0" stroke="#ff00ff"/>
<path d="M125.0,270.9L127.0,270.9 129.0,270.9 131.0,270.9 133.0,270.9 135.0,270.9 137.0,270.9 139.0,270.9 141.0,270.9 143.0,270.9 145.0,270.9 147.0,270.9 149.0,270.9 151.0,270.9 153.0,270.9 155.0,270.9 157.0,270.9 159.0,270.9 161.0,270.9 163.0,270.9 165.0,270.9 167.0,270.9 169.0,270.9 171.0,270.9 173.0,270.9 175.0,270.9 177.0,270.9 179.0,270.9 181.0,270.9 183.0,270.9 185.0,270.9 187.0,270.9 189.0,270.9 191.0,270.9 193.0,270.9 195.0,270.9 197.0,270.9 199.0,270.9 200.0,270.9 201.0,270.9 203.0,270.9 205.0,270.9 207.0,270.9 209.0,270.9 211.0,270.9 213.0,270.9 215.0,270.9 217.0,270.9 219.0,270.9 221.0,270.9 223.0,270.9 225.0,270.8 227.0,270.8 229.0,270.8 231.0,270.8 233.0,270.8 235.0,270.8 237.0,270.8 239.0,270.8 241.0,270.8 243.0,270.8 245.0,270.8 247.0,270.8 249.0,270.8 250.0,270.8 251.0,270.8 253.0,270.8 255.0,270.8 257.0,270.8 259.0,270.9 261.0,270.9 263.0,270.9 265.0,271.0 267.0,271.0 269.0,271.0 271.0,271.1 273.0,271.1 275.0,271.2 277.0,271.3 278.0,271.3 279.0,271.3 281.0,271.4 283.0,271.6 285.0,271.8 287.0,272.0 289.0,272.2 291.0,272.5 293.0,272.8 295.0,273.1 297.0,273.4 298.0,273.5 299.0,273.7 301.0,274.0 303.0,274.4 305.0,274.8 307.0,275.2 309.0,275.7 311.0,276.2 313.0,276.7 315.0,277.3 317.0,277.9 317.5,278.0 319.0,278.5 321.0,279.1 323.0,279.8 325.0,280.6 327.0,281.4 329.0,282.2 331.0,283.1 333.0,284.0 335.0,285.0 337.0,285.9 339.0,286.9 341.0,288.0 343.0,289.0 345.0,290.1 347.0,291.2 349.0,292.4 351.0,293.5 353.0,294.7 354.6,295.6 355.0,295.8 357.0,297.1 359.0,298.3 361.0,299.7 363.0,301.1 365.0,302.5 367.0,304.0 369.0,305.5 371.0,307.1 373.0,308.7 375.0,310.3 377.0,311.9 379.0,313.6 381.0,315.2 383.0,316.9 385.0,318.6 387.0,320.2 389.0,321.9 391.0,323.5 391.6,324.0 393.0,325.2 395.0,326.9 397.0,328.6 399.0,330.5 401.0,332.3 403.0,334.2 405.0,336.1 407.0,338.0 409.0,339.9 411.0,341.8 413.0,343.7 415.0,345.5 417.0,347.3 419.0,349.0 421.0,350.6 423.0,352.2 425.0,353.6 427.0,355.0 428.6,356.0 429.0,356.2 431.0,357.5 433.0,358.7 435.0,360.0 437.0,361.3 439.0,362.6 441.0,363.8 443.0,365.1 445.0,366.2 447.0,367.4 449.0,368.4 451.0,369.4 453.0,370.3 455.0,371.1 457.0,371.8 459.0,372.4 461.0,372.9 463.0,373.1 465.0,373.3 465.7,373.3 467.0,373.3 469.0,373.2 471.0,373.0 473.0,372.7 475.0,372.4 477.0,371.9 479.0,371.5 481.0,371.0 483.0,370.5 485.0,369.9 487.0,369.4 489.0,368.8 490.4,368.4 491.0,368.2 493.0,367.6 495.0,366.9 497.0,366.1 499.0,365.2 501.0,364.2 503.0,363.2 505.0,362.1 507.0,361.0 509.0,359.9 511.0,358.7 513.0,357.5 515.0,356.3 517.0,355.0 519.0,353.8 521.0,352.5 523.0,351.3 525.0,350.0 527.0,348.8 527.4,348.6 529.0,347.6 531.0,346.4 533.0,345.0 535.0,343.7 537.0,342.3 539.0,340.8 541.0,339.4 543.0,337.9 545.0,336.5 547.0,335.0 549.0,333.6 551.0,332.1 553.0,330.8 555.0,329.4 557.0,328.2 559.0,326.9 561.0,325.8 563.0,324.7 564.4,324.0 565.0,323.7 567.0,322.8 569.0,321.9 571.0,321.1 573.0,320.3 575.0,319.5 577.0,318.7 579.0,318.0 581.0,317.3 583.0,316.6 585.0,315.9 587.0,315.2 589.0,314.5 591.0,313.8 593.0,313.1 595.0,312.4 597.0,311.6 599.0,310.8 600.0,310.4 601.0,310.0 603.0,309.1 605.0,308.3 607.0,307.4 609.0,306.5 611.0,305.6 613.0,304.6 615.0,303.7 617.0,302.8 619.0,301.9 621.0,301.0 623.0,300.1 624.7,299.3 625.0,299.2 627.0,298.2 629.0,297.1 631.0,295.9 633.0,294.7 635.0,293.6 637.0,292.5 639.0,291.5 641.0,290.6 643.0,290.0 645.0,289.6 647.0,289.4 649.0,289.5 651.0,289.9 653.0,290.5 655.0,291.3 657.0,292.2 659.0,293.3 661.0,294.4 663.0,295.6 665.0,296.8 667.0,298.1 669.0,299.3 671.0,300.6 673.0,302.1 675.0,303.7 677.0,305.5 679.0,307.4 681.0,309.4 683.0,311.4 685.0,313.4 687.0,315.3 689.0,317.3 691.0,319.1 693.0,320.8 693.8,321.5 695.0,322.5 697.0,324.3 699.0,326.1 701.0,328.0 703.0,330.0 705.0,331.9 707.0,333.7 709.0,335.5 711.0,337.0 713.0,338.4 715.0,339.6 717.0,340.4 719.0,341.0 721.0,341.2 723.0,341.0 725.0,340.5 727.0,339.8 729.0,338.7 731.0,337.5 733.0,336.1 735.0,334.6 737.0,333.0 739.0,331.3 741.0,329.6 743.0,327.9 745.0,326.3 747.0,324.7 748.0,324.0 749.0,323.3 751.0,321.8 753.0,320.2 755.0,318.6 757.0,317.0 759.0,315.3 761.0,313.6 763.0,311.9 765.0,310.3 767.0,308.6 769.0,307.1 771.0,305.5 772.8,304.2 773.0,304.1 775.0,302.6 777.0,301.1 779.0,299.5 781.0,298.0 783.0,296.4 785.0,294.9 787.0,293.5 789.0,292.2 791.0,291.0 793.0,289.9 795.0,289.0 797.0,288.3 797.5,288.1 799.0,287.7 801.0,287.1 803.0,286.6 805.0,286.1 807.0,285.6 809.0,285.1 811.0,284.7 813.0,284.3 815.0,283.9 817.0,283.5 819.0,283.1 821.0,282.8 823.0,282.5 825.0,282.2 827.0,281.9 829.0,281.6 831.0,281.3 833.0,281.1 835.0,280.8 837.0,280.6 839.0,280.3 841.0,280.1 843.0,279.9 845.0,279.7 847.0,279.5 849.0,279.3 851.0,279.1 853.0,278.9 855.0,278.7 857.0,278.6 859.0,278.4 861.0,278.2 863.0,278.1 865.0,277.9 867.0,277.8 869.0,277.6 871.0,277.5 873.0,277.3 875.0,277.2 877.0,277.0 879.0,276.9 881.0,276.8 883.0,276.6 885.0,276.5 887.0,276.4 889.0,276.3 891.0,276.2 893.0,276.0 895.0,275.9 897.0,275.8 899.0,275.7 901.0,275.6 903.0,275.5 905.0,275.4 907.0,275.3 909.0,275.2 911.0,275.1 913.0,275.0 915.0,274.9 917.0,274.8 919.0,274.7 921.0,274.6 923.0,274.5 925.0,274.4 927.0,274.3 929.0,274.2 931.0,274.1 933.0,274.0 935.0,273.9 937.0,273.8 939.0,273.7 941.0,273.6 943.0,273.5 945.0,273.4 947.0,273.3 949.0,273.2 951.0,273.1 953.0,273.0 955.0,272.9 957.0,272.8 959.0,272.7 961.0,272.6 963.0,272.5 965.0,272.4 967.0,272.3 969.0,272.2 971.0,272.1 973.0,272.0 975.0,272.0 977.0,271.9 979.0,271.8 981.0,271.7 983.0,271.6 985.0,271.6 987.0,271.5 989.0,271.4 991.0,271.4 993.0,271.3 995.0,271.3 997.0,271.2 999.0,271.2 1001.0,271.1 1003.0,271.1 1005.0,271.0 1007.0,271.0 1009.0,271.0 1011.0,270.9 1013.0,270.9 1015.0,270.9 1017.0,270.9 1019.0,270.9 1019.8,270.9 1021.0,270.9 1023.0,270.9 1025.0,270.9 1027.0,270.9 1029.0,271.0 1031.0,271.0 1033.0,271.0 1035.0,271.1 1037.0,271.1 1039.0,271.2 1041.0,271.2 1043.0,271.3 1045.0,271.4 1047.0,271.4 1049.0,271.5 1051.0,271.6 1053.0,271.6 1055.0,271.7 1057.0,271.8 1059.0,271.9 1061.0,271.9 1063.0,272.0 1065.0,272.1 1067.0,272.2 1069.0,272.2 1071.0,272.3 1073.0,272.4 1075.0,272.4 1077.0,272.5 1079.0,272.6 1081.0,272.6 1083.0,272.7 1085.0,272.7 1087.0,272.8 1089.0,272.8 1091.0,272.9 1093.0,272.9 1095.0,272.9 1097.0,273.0 1099.0,273.0 1100.0,273.0 1101.0,273.0 1103.0,273.0 1105.0,273.0 1107.0,273.0 1109.0,273.1 1111.0,273.1 1113.0,273.1 1115.0,273.1 1117.0,273.1 1119.0,273.1 1121.0,273.1 1123.0,273.1 1125.0,273.1 1127.0,273.1 1129.0,273.2 1131.0,273.2 1133.0,273.2 1135.0,273.2 1137.0,273.2 1139.0,273.2 1141.0,273.2 1143.0,273.2 1145.0,273.2 1147.0,273.2 1149.0,273.2 1151.0,273.2 1153.0,273.2 1155.0,273.3 1157.0,273.3 1159.0,273.3 1161.0,273.3 1163.0,273.3 1165.0,273.3 1167.0,273.3 1169.0,273.3 1171.0,273.3 1173.0,273.3 1175.0,273.3 1177.0,273.3 1179.0,273.3 1181.0,273.3 1183.0,273.3 1185.0,273.3 1186.4,273.3 1187.0,273.3 1189.0,273.2 1191.0,273.1 1193.0,272.9 1195.0,272.7 1197.0,272.4 1199.0,272.2 1201.0,271.9 1203.0,271.6 1205.0,271.4 1207.0,271.2 1209.0,271.0 1211.0,270.9 1213.0,270.8 1215.0,270.8 1217.0,270.7 1219.0,270.7 1221.0,270.6 1223.0,270.6 1225.0,270.5 1227.0,270.5 1229.0,270.4 1231.0,270.4 1233.0,270.3 1235.0,270.3 1237.0,270.2 1239.0,270.2 1241.0,270.2 1243.0,270.1 1245.0,270.1 1247.0,270.0 1249.0,270.0 1251.0,270.0 1253.0,269.9 1255.0,269.9 1257.0,269.9 1259.0,269.9 1261.0,269.8 1263.0,269.8 1265.0,269.8 1267.0,269.8 1269.0,269.7 1271.0,269.7 1273.0,269.7 1275.0,269.7 1277.0,269.7 1279.0,269.7 1281.0,269.6 1283.0,269.6 1285.0,269.6 1287.0,269.6 1289.0,269.6 1291.0,269.6 1293.0,269.6 1295.0,269.6 1297.0,269.6 1297.5,269.6 1299.0,269.6 1301.0,269.7 1303.0,269.7 1305.0,269.9 1307.0,270.0 1309.0,270.2 1311.0,270.4 1313.0,270.5 1315.0,270.7 1317.0,270.9 1319.0,271.1 1321.0,271.3 1323.0,271.5 1325.0,271.7 1327.0,271.8 1329.0,271.9 1331.0,272.0 1333.0,272.1 1334.6,272.1 1335.0,272.1 1337.0,271.9 1339.0,271.6 1341.0,271.1 1343.0,270.4 1345.0,269.7 1347.0,269.0 1349.0,268.2 1351.0,267.5 1353.0,266.9 1355.0,266.4 1357.0,266.1 1359.0,266.0 1361.0,266.1 1363.0,266.5 1365.0,267.0 1367.0,267.7 1369.0,268.5 1371.0,269.3 1371.6,269.6 1373.0,270.3 1375.0,271.9 1377.0,273.8 1379.0,276.2 1381.0,278.8 1383.0,281.6 1385.0,284.5 1387.0,287.5 1389.0,290.4 1391.0,293.2 1393.0,295.8 1395.0,298.0 1396.3,299.3 1397.0,299.9 1399.0,301.8 1401.0,303.8 1403.0,305.8 1405.0,307.7 1407.0,309.6 1409.0,311.4 1411.0,313.2 1413.0,314.7 1415.0,316.1 1417.0,317.2 1419.0,318.1 1421.0,318.7 1423.0,319.0 1423.5,319.0 1425.0,318.9 1427.0,318.6 1429.0,318.1 1431.0,317.5 1433.0,316.8 1435.0,316.0 1437.0,315.1 1439.0,313.9 1441.0,312.6 1443.0,311.1 1445.0,309.5 1445.7,309.0 1447.0,307.9 1449.0,306.1 1451.0,304.1 1453.0,302.0 1455.0,299.9 1457.0,297.9 1458.0,297.0 1459.0,296.1 1461.0,294.4 1463.0,292.8 1465.0,291.1 1467.0,289.5 1469.0,287.9 1470.0,287.0 1471.0,286.0 1473.0,283.7 1475.0,281.5 1477.0,280.1 1477.8,280.0 1479.0,280.0 1481.0,280.0 1483.0,280.1 1485.0,280.1 1487.0,280.2 1489.0,280.3 1491.0,280.4 1493.0,280.6 1495.0,280.7 1497.0,281.1 1499.0,281.8 1501.0,282.9 1503.0,284.2 1505.0,285.8 1507.0,287.6 1509.0,289.5 1511.0,291.4 1513.0,293.3 1515.0,295.2 1517.0,297.0 1519.0,298.7 1519.8,299.3 1521.0,300.2 1523.0,301.8 1525.0,303.6 1527.0,305.4 1529.0,307.3 1531.0,309.2 1533.0,311.1 1535.0,312.9 1537.0,314.8 1539.0,316.5 1541.0,318.1 1543.0,319.6 1545.0,320.9 1547.0,322.0 1549.0,322.9 1551.0,323.6 1553.0,323.9 1554.3,324.0 1555.0,324.0 1557.0,323.7 1559.0,323.0 1561.0,322.1 1563.0,321.0 1565.0,319.8 1567.0,318.4 1569.0,317.0 1571.0,315.7 1573.0,314.5 1575.0,313.4 1577.0,312.5 1579.0,311.9 1581.0,311.6 1581.5,311.6 1583.0,311.6 1585.0,311.7 1587.0,311.9 1589.0,312.1 1591.0,312.3 1593.0,312.6 1595.0,312.7 1597.0,312.9 1599.0,313.0 1600.0,313.0 1601.0,313.0 1603.0,312.8 1605.0,312.5 1607.0,312.0 1609.0,311.4 1611.0,310.7 1613.0,309.9 1615.0,309.0 1617.0,308.2 1619.0,307.2 1621.0,306.3 1623.0,305.4 1625.0,304.5 1625.7,304.2 1627.0,303.6 1629.0,302.5 1631.0,301.2 1633.0,299.8 1635.0,298.4 1637.0,296.9 1639.0,295.4 1641.0,294.0 1643.0,292.8 1645.0,291.7 1647.0,290.8 1649.0,290.3 1651.0,290.0 1651.4,290.0 1653.0,290.1 1655.0,290.6 1657.0,291.4 1659.0,292.5 1661.0,293.9 1663.0,295.4 1665.0,297.2 1667.0,299.1 1669.0,301.1 1671.0,303.1 1672.0,304.2 1673.0,305.4 1675.0,308.2 1677.0,311.8 1679.0,315.8 1681.0,320.3 1683.0,325.1 1685.0,330.1 1687.0,335.2 1689.0,340.2 1690.0,342.7 1691.0,345.2 1693.0,350.3 1695.0,355.7 1697.0,361.3 1699.0,367.1 1701.0,373.0 1703.0,379.0 1705.0,385.1 1707.0,391.2 1707.9,394.0 1709.0,397.4 1711.0,403.9 1713.0,410.5 1715.0,417.3 1717.0,424.1 1719.0,431.0 1721.0,437.7 1723.0,444.4 1723.3,445.4 1725.0,451.2 1727.0,458.4 1729.0,465.6 1731.0,472.6 1733.0,478.9 1735.0,484.3 1736.0,486.5 1737.0,488.6 1739.0,492.8 1741.0,496.0 1742.5,496.8 1743.0,496.8 1745.0,496.1 1747.0,494.7 1749.0,492.6 1751.0,490.0 1753.0,487.0 1755.0,483.7 1757.0,480.2 1759.0,476.7 1759.2,476.3 1761.0,472.7 1763.0,467.8 1765.0,462.0 1767.0,455.6 1769.0,448.6 1771.0,441.2 1773.0,433.5 1775.0,425.7 1777.0,417.8 1779.0,410.0 1779.8,407.0 1781.0,402.3 1783.0,393.9 1785.0,385.0 1787.0,375.9 1789.0,366.9 1791.0,358.1 1793.0,350.0 1795.0,342.7 1797.0,335.9 1799.0,329.1 1801.0,322.6 1803.0,316.3 1805.0,310.7 1807.0,305.7 1809.0,301.6 1810.6,299.0 1811.0,298.5 1813.0,295.7 1815.0,293.1 1817.0,290.8 1819.0,288.7 1821.0,287.0 1823.0,285.7 1825.0,285.1 1826.0,285.0 1827.0,285.0 1829.0,285.2 1831.0,285.4 1833.0,285.7 1835.0,285.9 1837.0,286.1 1838.8,286.2 1839.0,286.2 1841.0,286.1 1843.0,285.8 1845.0,285.4 1847.0,284.8 1849.0,284.1 1851.0,283.4 1853.0,282.5 1855.0,281.7 1857.0,280.8 1859.0,279.9 1861.0,279.0 1863.0,278.2 1865.0,277.4 1867.0,276.7 1869.0,276.1 1869.6,276.0 1871.0,275.7 1873.0,275.2 1875.0,274.6 1877.0,274.1 1879.0,273.6 1881.0,273.2 1883.0,272.8 1885.0,272.5 1887.0,272.3 1889.0,272.1 1890.2,272.1 1891.0,272.1 1893.0,272.2 1895.0,272.5 1897.0,272.9 1899.0,273.4 1901.0,274.0 1903.0,274.6 1905.0,275.3 1907.0,276.1 1909.0,276.8 1911.0,277.6 1913.0,278.4 1913.3,278.5 1915.0,279.2 1917.0,280.1 1919.0,281.2 1921.0,282.3 1923.0,283.6 1925.0,284.9 1927.0,286.3 1929.0,287.7 1931.0,289.2 1933.0,290.6 1935.0,292.1 1937.0,293.6 1939.0,295.1 1941.0,296.5 1943.0,297.9 1945.0,299.2 1946.7,300.3 1947.0,300.5 1949.0,301.7 1951.0,303.0 1953.0,304.3 1955.0,305.6 1957.0,306.9 1959.0,308.2 1961.0,309.4 1963.0,310.7 1965.0,311.9 1967.0,313.1 1969.0,314.3 1971.0,315.4 1973.0,316.4 1975.0,317.4 1977.0,318.4 1979.0,319.2 1980.0,319.6 1981.0,320.0 1983.0,320.8 1985.0,321.6 1987.0,322.4 1989.0,323.2 1991.0,324.0 1993.0,324.7 1995.0,325.4 1997.0,326.1 1999.0,326.7 2001.0,327.2 2003.0,327.7 2005.0,328.1 2007.0,328.4 2009.0,328.5 2011.0,328.6 2013.0,328.5 2015.0,328.4 2017.0,328.2 2019.0,327.8 2021.0,327.4 2023.0,326.9 2025.0,326.4 2027.0,325.8 2029.0,325.2 2031.0,324.5 2033.0,323.7 2035.0,322.9 2037.0,322.1 2039.0,321.3 2041.0,320.5 2043.0,319.7 2045.0,318.8 2047.0,318.0 2049.0,317.2 2049.4,317.0 2051.0,316.3 2053.0,315.5 2055.0,314.6 2057.0,313.7 2059.0,312.7 2061.0,311.7 2063.0,310.6 2065.0,309.6 2067.0,308.5 2069.0,307.3 2071.0,306.1 2073.0,304.9 2075.0,303.7 2077.0,302.4 2079.0,301.1 2081.0,299.7 2083.0,298.4 2085.0,296.9 2087.0,295.5 2089.0,294.0 2091.0,292.6 2093.0,291.0 2095.0,289.5 2097.0,287.9 2099.0,286.3 2101.0,284.7 2103.0,283.0 2105.0,281.3 2107.0,279.6 2109.0,277.9 2110.0,277.0" stroke="#ff8000"/>
<path d="M125.0,72.0L127.0,72.0 129.0,72.0 131.0,72.0 133.0,72.0 135.0,72.0 137.0,72.0 139.0,72.0 141.0,72.0 143.0,72.0 145.0,72.0 147.0,72.0 149.0,72.0 151.0,72.0 153.0,72.0 155.0,72.0 157.0,72.0 159.0,72.0 161.0,72.0 163.0,72.0 165.0,72.0 167.0,72.0 169.0,72.0 171.0,72.0 173.0,72.0 175.0,72.0 177.0,72.0 179.0,72.0 181.0,72.0 183.0,72.0 185.0,72.0 187.0,72.0 189.0,72.0 191.0,72.0 193.0,72.0 195.0,72.0 197.0,72.0 199.0,72.0 200.0,72.0 201.0,72.0 203.0,72.0 205.0,72.0 207.0,72.0 209.0,72.0 211.0,72.0 213.0,72.0 215.0,72.0 217.0,72.0 219.0,72.0 221.0,71.9 223.0,71.9 225.0,71.9 227.0,71.9 229.0,71.9 231.0,71.9 233.0,71.9 235.0,71.9 237.0,71.9 239.0,71.9 241.0,71.8 243.0,71.8 245.0,71.8 247.0,71.8 249.0,71.8 251.0,71.8 253.0,71.8 255.0,71.8 257.0,71.8 259.0,71.8 260.0,71.8 261.0,71.8 263.0,71.8 265.0,71.8 267.0,71.8 269.0,71.9 271.0,71.9 273.0,71.9 275.0,72.0 277.0,72.0 279.0,72.0 281.0,72.1 283.0,72.1 285.0,72.2 287.0,72.3 289.0,72.3 291.0,72.4 293.0,72.5 295.0,72.6 297.0,72.8 299.0,73.1 301.0,73.5 303.0,73.9 305.0,74.3 307.0,74.8 309.0,75.3 311.0,75.8 312.0,76.0 313.0,76.2 315.0,76.7 317.0,77.3 319.0,77.8 321.0,78.4 323.0,79.0 325.0,79.7 327.0,80.4 329.0,81.1 330.0,81.5 331.0,81.9 333.0,82.7 335.0,83.6 337.0,84.5 339.0,85.5 341.0,86.5 343.0,87.6 345.0,88.7 347.0,89.8 349.0,91.0 351.0,92.2 353.0,93.4 355.0,94.6 357.0,95.8 359.0,97.0 361.0,98.2 363.0,99.4 365.0,100.5 367.0,101.7 369.0,102.9 371.0,104.0 373.0,105.2 375.0,106.5 377.0,107.7 379.0,108.9 381.0,110.2 383.0,111.4 385.0,112.7 387.0,113.9 389.0,115.1 391.0,116.4 393.0,117.6 395.0,118.8 397.0,120.0 399.0,121.2 401.0,122.3 403.0,123.4 404.0,124.0 405.0,124.5 407.0,125.7 409.0,126.8 411.0,127.9 413.0,129.0 415.0,130.2 417.0,131.3 419.0,132.4 421.0,133.5 423.0,134.5 425.0,135.6 427.0,136.6 429.0,137.6 431.0,138.5 433.0,139.4 435.0,140.3 437.0,141.1 439.0,141.8 441.0,142.5 443.0,143.2 445.0,143.8 447.0,144.5 449.0,145.2 451.0,145.8 453.0,146.4 455.0,147.0 457.0,147.5 459.0,147.9 461.0,148.3 463.0,148.5 465.0,148.6 465.7,148.6 467.0,148.6 469.0,148.5 471.0,148.4 473.0,148.3 475.0,148.1 477.0,147.9 479.0,147.6 481.0,147.4 483.0,147.1 485.0,146.8 487.0,146.5 489.0,146.2 490.0,146.0 491.0,145.8 493.0,145.5 495.0,145.0 497.0,144.5 499.0,143.9 501.0,143.3 503.0,142.7 505.0,142.0 507.0,141.3 509.0,140.5 511.0,139.8 513.0,139.0 515.0,138.2 517.0,137.4 519.0,136.7 521.0,135.9 523.0,135.2 525.0,134.5 527.0,133.8 529.0,133.2 531.0,132.5 533.0,131.9 535.0,131.3 537.0,130.6 539.0,129.9 540.0,129.5 541.0,129.1 543.0,128.1 545.0,127.1 547.0,126.0 549.0,124.8 551.0,123.6 553.0,122.4 555.0,121.2 555.8,120.8 557.0,120.1 559.0,119.0 561.0,117.9 563.0,116.8 565.0,115.7 567.0,114.6 569.0,113.5 571.0,112.4 571.6,112.1 573.0,111.4 575.0,110.3 577.0,109.3 579.0,108.2 581.0,107.2 583.0,106.2 585.0,105.3 587.0,104.4 587.4,104.2 589.0,103.5 591.0,102.6 593.0,101.7 595.0,100.9 597.0,100.1 599.0,99.3 601.0,98.6 603.0,98.0 603.2,97.9 605.0,97.4 607.0,96.8 609.0,96.3 611.0,95.8 613.0,95.4 615.0,94.9 617.0,94.5 619.0,94.0 621.0,93.5 623.0,93.1 625.0,92.6 627.0,92.1 629.0,91.7 631.0,91.2 633.0,90.8 634.8,90.4 635.0,90.4 637.0,89.9 639.0,89.5 641.0,89.1 643.0,88.6 645.0,88.2 647.0,87.9 649.0,87.5 650.6,87.3 651.0,87.2 653.0,87.0 655.0,86.7 657.0,86.4 659.0,86.2 661.0,86.1 663.0,86.0 663.3,86.0 665.0,86.2 667.0,87.0 669.0,88.1 671.0,89.3 672.0,90.0 673.0,90.8 675.0,92.8 677.0,95.2 679.0,97.5 680.0,98.5 681.0,99.4 683.0,101.1 685.0,102.7 687.0,104.2 689.0,105.7 690.0,106.5 691.0,107.3 693.0,109.0 695.0,110.6 697.0,112.2 699.0,113.5 700.0,114.0 701.0,114.5 703.0,115.3 705.0,116.1 707.0,116.8 709.0,117.4 711.0,118.0 713.0,118.6 715.0,119.1 715.6,119.3 717.0,119.7 719.0,120.3 721.0,120.9 723.0,121.4 725.0,121.8 727.0,122.0 727.4,122.0 729.0,121.9 731.0,121.6 733.0,121.0 735.0,120.3 737.0,119.5 739.0,118.6 739.3,118.5 741.0,117.6 743.0,116.2 745.0,114.6 747.0,112.8 749.0,110.9 751.0,109.1 751.1,109.0 753.0,107.2 755.0,105.2 757.0,103.1 759.0,101.1 761.0,99.0 763.0,96.8 765.0,94.8 766.9,93.2 767.0,93.1 769.0,91.8 771.0,90.6 773.0,89.5 775.0,88.5 777.0,87.6 778.8,86.9 779.0,86.8 781.0,86.1 783.0,85.3 785.0,84.6 787.0,84.0 789.0,83.4 791.0,82.9 793.0,82.4 794.6,82.1 795.0,82.0 797.0,81.7 799.0,81.4 801.0,81.1 803.0,80.9 805.0,80.7 807.0,80.4 809.0,80.2 811.0,80.1 813.0,79.9 814.3,79.8 815.0,79.7 817.0,79.6 819.0,79.5 821.0,79.3 823.0,79.2 825.0,79.1 827.0,79.0 829.0,78.9 831.0,78.8 833.0,78.7 835.0,78.6 837.0,78.5 839.0,78.4 841.0,78.3 843.0,78.2 845.0,78.1 847.0,78.0 849.0,77.9 851.0,77.8 853.0,77.6 855.0,77.5 857.0,77.4 859.0,77.3 861.0,77.1 863.0,77.0 865.0,76.9 867.0,76.7 869.0,76.6 871.0,76.5 873.0,76.3 875.0,76.2 877.0,76.0 879.0,75.9 881.0,75.8 883.0,75.6 885.0,75.5 887.0,75.4 889.0,75.2 891.0,75.1 893.0,75.0 895.0,74.8 897.0,74.7 899.0,74.6 901.0,74.5 903.0,74.4 905.0,74.3 907.0,74.1 909.0,74.0 911.0,73.9 913.0,73.8 915.0,73.7 917.0,73.7 919.0,73.6 921.0,73.5 923.0,73.4 925.0,73.3 927.0,73.3 929.0,73.2 931.0,73.1 933.0,73.0 935.0,73.0 937.0,72.9 939.0,72.8 941.0,72.7 943.0,72.7 945.0,72.6 947.0,72.5 949.0,72.5 951.0,72.4 953.0,72.3 955.0,72.2 957.0,72.2 959.0,72.1 961.0,72.0 963.0,72.0 965.0,71.9 967.0,71.8 969.0,71.8 971.0,71.7 973.0,71.7 975.0,71.6 977.0,71.5 979.0,71.5 981.0,71.4 983.0,71.4 985.0,71.3 987.0,71.3 989.0,71.3 991.0,71.2 993.0,71.2 995.0,71.1 997.0,71.1 999.0,71.1 1001.0,71.0 1003.0,71.0 1005.0,71.0 1007.0,71.0 1009.0,70.9 1011.0,70.9 1013.0,70.9 1015.0,70.9 1017.0,70.9 1019.0,70.9 1019.8,70.9 1021.0,70.9 1023.0,70.9 1025.0,70.9 1027.0,70.9 1029.0,71.0 1031.0,71.0 1033.0,71.1 1035.0,71.1 1037.0,71.1 1039.0,71.2 1041.0,71.3 1043.0,71.3 1045.0,71.4 1047.0,71.5 1049.0,71.5 1051.0,71.6 1053.0,71.7 1055.0,71.8 1057.0,71.8 1059.0,71.9 1061.0,72.0 1063.0,72.1 1065.0,72.1 1067.0,72.2 1069.0,72.3 1071.0,72.4 1073.0,72.4 1075.0,72.5 1077.0,72.6 1079.0,72.6 1081.0,72.7 1083.0,72.8 1085.0,72.8 1087.0,72.9 1089.0,72.9 1091.0,72.9 1093.0,73.0 1095.0,73.0 1097.0,73.0 1099.0,73.0 1100.0,73.0 1101.0,73.0 1103.0,73.0 1105.0,72.9 1107.0,72.8 1109.0,72.7 1111.0,72.6 1113.0,72.4 1115.0,72.2 1117.0,72.1 1119.0,71.9 1121.0,71.7 1123.0,71.6 1125.0,71.4 1127.0,71.3 1129.0,71.2 1131.0,71.0 1133.0,71.0 1135.0,70.9 1137.0,70.9 1139.0,70.9 1141.0,71.1 1143.0,71.2 1145.0,71.5 1147.0,71.8 1149.0,72.1 1151.0,72.5 1153.0,72.9 1155.0,73.3 1157.0,73.6 1159.0,74.0 1161.0,74.4 1163.0,74.8 1165.0,75.1 1167.0,75.3 1169.0,75.6 1171.0,75.7 1173.0,75.8 1174.0,75.8 1175.0,75.8 1177.0,75.7 1179.0,75.7 1181.0,75.5 1183.0,75.4 1185.0,75.2 1187.0,75.0 1189.0,74.7 1191.0,74.5 1193.0,74.2 1195.0,73.9 1197.0,73.6 1199.0,73.3 1201.0,73.0 1203.0,72.7 1205.0,72.4 1207.0,72.2 1209.0,71.9 1211.0,71.7 1213.0,71.5 1215.0,71.3 1217.0,71.1 1219.0,71.0 1221.0,70.9 1223.0,70.9 1223.5,70.9 1225.0,70.9 1227.0,70.9 1229.0,70.9 1231.0,70.9 1233.0,70.9 1235.0,70.9 1237.0,70.9 1239.0,70.9 1241.0,70.9 1243.0,70.9 1245.0,70.9 1247.0,70.9 1249.0,70.9 1251.0,70.9 1253.0,70.9 1255.0,70.9 1257.0,70.9 1259.0,70.9 1261.0,70.9 1263.0,70.9 1265.0,70.9 1267.0,70.9 1269.0,70.9 1271.0,70.9 1273.0,70.9 1275.0,70.9 1277.0,70.9 1279.0,70.9 1281.0,70.9 1283.0,70.9 1285.0,70.9 1287.0,70.9 1289.0,70.9 1291.0,70.9 1293.0,70.9 1295.0,70.9 1297.0,70.9 1299.0,70.9 1301.0,70.9 1303.0,70.9 1305.0,70.9 1307.0,70.9 1309.0,70.9 1311.0,70.9 1313.0,70.9 1315.0,70.9 1317.0,70.9 1319.0,70.9 1321.0,70.9 1323.0,70.9 1325.0,70.9 1327.0,70.9 1329.0,70.9 1331.0,70.9 1333.0,70.9 1334.6,70.9 1335.0,70.9 1337.0,70.7 1339.0,70.2 1341.0,69.6 1343.0,69.0 1345.0,68.6 1347.0,68.4 1349.0,68.5 1351.0,68.8 1353.0,69.2 1355.0,69.8 1357.0,70.5 1359.0,71.3 1361.0,72.2 1363.0,73.1 1365.0,74.0 1367.0,74.9 1369.0,75.9 1371.0,76.7 1371.6,77.0 1373.0,77.6 1375.0,78.4 1377.0,79.3 1379.0,80.2 1381.0,81.2 1383.0,82.2 1385.0,83.5 1386.4,84.4 1387.0,84.8 1389.0,86.6 1391.0,88.8 1393.0,91.3 1395.0,93.9 1397.0,96.6 1399.0,99.3 1401.0,101.7 1403.0,104.2 1405.0,107.1 1407.0,110.1 1409.0,113.1 1411.0,115.8 1413.0,118.2 1415.0,120.1 1417.0,121.2 1418.5,121.5 1419.0,121.5 1421.0,121.1 1423.0,120.2 1425.0,118.9 1427.0,117.4 1429.0,115.7 1431.0,114.0 1433.0,111.7 1435.0,108.6 1437.0,104.8 1439.0,100.8 1441.0,96.9 1443.0,93.2 1445.0,90.2 1445.7,89.4 1447.0,87.9 1449.0,85.7 1451.0,83.6 1453.0,81.6 1455.0,79.9 1457.0,78.5 1459.0,77.5 1460.5,77.0 1461.0,76.9 1463.0,76.5 1465.0,76.1 1467.0,75.7 1469.0,75.4 1471.0,75.1 1473.0,74.8 1475.0,74.6 1477.0,74.3 1479.0,74.1 1481.0,73.9 1483.0,73.8 1485.0,73.6 1487.0,73.5 1489.0,73.4 1491.0,73.4 1493.0,73.3 1495.0,73.3 1497.0,73.4 1499.0,73.8 1501.0,74.4 1503.0,75.1 1505.0,76.0 1507.0,76.8 1507.4,77.0 1509.0,77.9 1511.0,79.6 1513.0,81.8 1515.0,84.4 1517.0,87.2 1519.0,90.3 1521.0,93.3 1523.0,96.3 1525.0,99.2 1527.0,101.7 1529.0,103.8 1531.0,105.5 1533.0,106.4 1534.6,106.7 1535.0,106.7 1537.0,106.4 1539.0,105.9 1541.0,105.2 1543.0,104.3 1545.0,103.5 1547.0,102.7 1549.0,102.1 1551.0,101.7 1551.9,101.7 1553.0,101.7 1555.0,102.0 1557.0,102.5 1559.0,103.1 1561.0,103.7 1563.0,104.4 1565.0,104.9 1567.0,105.3 1569.0,105.4 1571.0,105.3 1573.0,105.1 1575.0,104.8 1577.0,104.4 1579.0,103.9 1581.0,103.3 1583.0,102.7 1585.0,102.1 1586.4,101.7 1587.0,101.5 1589.0,100.5 1591.0,99.3 1593.0,98.0 1595.0,96.7 1597.0,95.7 1599.0,95.1 1600.0,95.0 1601.0,95.0 1603.0,95.2 1605.0,95.6 1607.0,96.0 1609.0,96.6 1611.0,97.3 1613.0,98.0 1615.0,98.8 1617.0,99.6 1619.0,100.3 1621.0,101.0 1623.0,101.6 1625.0,102.2 1627.0,102.6 1629.0,102.8 1630.8,102.9 1631.0,102.9 1633.0,102.6 1635.0,101.9 1637.0,100.8 1639.0,99.3 1641.0,97.6 1643.0,95.7 1645.0,93.6 1647.0,91.5 1649.0,89.2 1651.0,87.0 1653.0,84.8 1655.0,82.8 1657.0,80.9 1659.0,79.2 1661.0,77.9 1663.0,76.8 1665.0,76.2 1666.8,76.0 1667.0,76.0 1669.0,76.5 1671.0,77.6 1673.0,79.3 1675.0,81.5 1677.0,84.1 1679.0,86.9 1681.0,89.9 1682.0,91.4 1683.0,93.1 1685.0,97.8 1687.0,103.8 1689.0,110.5 1691.0,117.5 1693.0,124.5 1695.0,130.9 1697.0,136.3 1697.6,137.6 1699.0,140.5 1701.0,144.1 1703.0,147.5 1705.0,150.6 1707.0,153.6 1709.0,156.7 1711.0,159.8 1713.0,163.3 1715.0,167.0 1717.0,170.7 1719.0,174.5 1721.0,178.4 1723.0,182.4 1725.0,186.5 1727.0,190.6 1729.0,194.9 1731.0,199.2 1733.0,203.9 1735.0,209.1 1737.0,214.4 1739.0,219.6 1741.0,224.5 1743.0,228.6 1743.8,230.0 1745.0,232.0 1747.0,235.5 1749.0,238.7 1751.0,241.2 1753.0,242.7 1754.0,242.9 1755.0,242.8 1757.0,241.6 1759.0,239.5 1761.0,236.7 1763.0,233.2 1765.0,229.2 1767.0,225.0 1769.0,218.9 1771.0,210.0 1773.0,199.2 1775.0,187.7 1777.0,176.5 1779.0,166.6 1779.8,163.3 1781.0,158.6 1783.0,150.7 1785.0,142.9 1787.0,135.5 1789.0,128.8 1791.0,122.8 1793.0,118.0 1795.0,114.5 1797.0,112.1 1799.0,110.1 1801.0,108.4 1803.0,106.9 1805.0,105.5 1807.0,103.9 1808.0,103.0 1809.0,102.0 1811.0,99.9 1813.0,97.6 1815.0,95.0 1817.0,92.4 1819.0,89.8 1821.0,87.1 1823.0,84.5 1825.0,82.0 1827.0,79.6 1829.0,77.5 1831.0,75.7 1833.0,74.1 1835.0,73.0 1837.0,72.3 1838.8,72.1 1839.0,72.1 1841.0,72.3 1843.0,72.8 1845.0,73.6 1847.0,74.6 1849.0,75.7 1851.0,76.9 1853.0,78.1 1855.0,79.2 1857.0,80.3 1859.0,81.2 1861.0,81.9 1863.0,82.3 1864.5,82.4 1865.0,82.4 1867.0,82.0 1869.0,81.2 1871.0,80.1 1873.0,78.7 1875.0,77.2 1877.0,75.5 1879.0,73.8 1881.0,72.3 1883.0,70.8 1885.0,69.6 1887.0,68.7 1889.0,68.3 1890.0,68.2 1891.0,68.2 1893.0,68.4 1895.0,68.6 1897.0,69.0 1899.0,69.5 1901.0,70.1 1903.0,70.7 1905.0,71.5 1907.0,72.3 1909.0,73.2 1911.0,74.1 1913.0,75.0 1915.0,76.0 1917.0,77.0 1919.0,78.1 1921.0,79.1 1923.0,80.1 1925.0,81.1 1927.0,82.1 1929.0,83.0 1931.0,83.9 1933.0,84.7 1933.8,85.0 1935.0,85.5 1937.0,86.2 1939.0,86.9 1941.0,87.7 1943.0,88.4 1945.0,89.1 1947.0,89.8 1949.0,90.5 1951.0,91.3 1953.0,92.0 1955.0,92.8 1957.0,93.5 1959.0,94.3 1961.0,95.1 1963.0,95.9 1965.0,96.8 1967.0,97.7 1967.2,97.8 1969.0,98.7 1971.0,99.8 1973.0,101.0 1975.0,102.4 1977.0,103.8 1979.0,105.3 1981.0,106.8 1983.0,108.4 1985.0,110.0 1987.0,111.5 1989.0,113.1 1991.0,114.6 1993.0,116.0 1995.0,117.4 1997.0,118.7 1999.0,119.9 2001.0,120.9 2003.0,121.8 2005.0,122.5 2007.0,123.0 2009.0,123.4 2011.0,123.5 2013.0,123.4 2015.0,123.0 2017.0,122.4 2019.0,121.7 2021.0,120.7 2023.0,119.7 2025.0,118.5 2027.0,117.3 2029.0,116.0 2031.0,114.6 2033.0,113.3 2035.0,111.9 2037.0,110.6 2039.0,109.4 2041.0,108.3 2043.0,107.3 2044.0,106.8 2045.0,106.4 2047.0,105.5 2049.0,104.8 2051.0,104.0 2053.0,103.3 2055.0,102.6 2057.0,101.9 2059.0,101.2 2061.0,100.5 2063.0,99.8 2065.0,99.1 2067.0,98.3 2069.0,97.6 2071.0,96.8 2073.0,95.9 2075.0,95.0 2077.0,94.1 2079.0,93.1 2081.0,92.1 2083.0,91.0 2085.0,89.9 2087.0,88.8 2089.0,87.7 2091.0,86.5 2093.0,85.3 2095.0,84.1 2097.0,82.8 2099.0,81.5 2101.0,80.2 2103.0,78.9 2105.0,77.5 2107.0,76.1 2109.0,74.7 2110.0,74.0" stroke="#8000ff"/>
</g>
<line x1="453.8" y1="150.9" x2="483.5" y2="191.7" stroke="#000" stroke-width="4.5"/><polygon points="502.3,217.6 472.6,194.7 489.6,182.3" fill="#000"/>
<line x1="703.7" y1="124.0" x2="734.7" y2="164.1" stroke="#000" stroke-width="4.5"/><polygon points="754.3,189.4 724.0,167.4 740.6,154.5" fill="#000"/>
<line x1="1417.0" y1="129.0" x2="1449.3" y2="170.3" stroke="#000" stroke-width="4.5"/><polygon points="1469.0,195.5 1438.6,173.6 1455.1,160.7" fill="#000"/>
<line x1="1754.0" y1="239.8" x2="1833.8" y2="239.8" stroke="#000" stroke-width="4.5"/><polygon points="1865.8,239.8 1829.8,250.3 1829.8,229.3" fill="#000"/>
<line x1="449.6" y1="374.6" x2="480.8" y2="415.7" stroke="#000" stroke-width="4.5"/><polygon points="500.2,441.2 470.1,418.9 486.8,406.2" fill="#000"/>
<line x1="727.0" y1="346.2" x2="759.3" y2="387.6" stroke="#000" stroke-width="4.5"/><polygon points="779.0,412.8 748.6,390.9 765.1,378.0" fill="#000"/>
<line x1="1419.8" y1="322.7" x2="1450.5" y2="362.6" stroke="#000" stroke-width="4.5"/><polygon points="1470.0,388.0 1439.7,365.9 1456.4,353.1" fill="#000"/>
<line x1="1743.8" y1="499.4" x2="1836.1" y2="432.7" stroke="#000" stroke-width="4.5"/><polygon points="1862.0,414.0 1839.0,443.6 1826.7,426.6" fill="#000"/>
<rect x="125" y="26" width="1985" height="1615" fill="none" stroke="#000" stroke-width="13.5" stroke-linejoin="round"/>
<line x1="125.0" y1="1645" x2="125.0" y2="1666" stroke="#000" stroke-width="13.5" stroke-linecap="round"/>
<line x1="400.6" y1="1645" x2="400.6" y2="1666" stroke="#000" stroke-width="13.5" stroke-linecap="round"/>
<line x1="676.2" y1="1645" x2="676.2" y2="1666" stroke="#000" stroke-width="13.5" stroke-linecap="round"/>
<line x1="951.8" y1="1645" x2="951.8" y2="1666" stroke="#000" stroke-width="13.5" stroke-linecap="round"/>
<line x1="1227.4" y1="1645" x2="1227.4" y2="1666" stroke="#000" stroke-width="13.5" stroke-linecap="round"/>
<line x1="1503.0" y1="1645" x2="1503.0" y2="1666" stroke="#000" stroke-width="13.5" stroke-linecap="round"/>
<line x1="1778.6" y1="1645" x2="1778.6" y2="1666" stroke="#000" stroke-width="13.5" stroke-linecap="round"/>
<line x1="2054.2" y1="1645" x2="2054.2" y2="1666" stroke="#000" stroke-width="13.5" stroke-linecap="round"/>
<g transform="translate(38.80,1745.50) scale(1.0000,1.0450)"><text x="0" y="0" font-size="77.50">4000</text></g>
<g transform="translate(314.40,1745.50) scale(1.0000,1.0450)"><text x="0" y="0" font-size="77.50">3500</text></g>
<g transform="translate(590.00,1745.50) scale(1.0000,1.0450)"><text x="0" y="0" font-size="77.50">3000</text></g>
<g transform="translate(865.60,1745.50) scale(1.0000,1.0450)"><text x="0" y="0" font-size="77.50">2500</text></g>
<g transform="translate(1141.20,1745.50) scale(1.0000,1.0450)"><text x="0" y="0" font-size="77.50">2000</text></g>
<g transform="translate(1416.80,1745.50) scale(1.0000,1.0450)" mask="url(#m1)"><mask id="m1" maskUnits="userSpaceOnUse" x="-50" y="-93" width="272" height="124"><rect x="-50" y="-93" width="272" height="124" fill="#fff"/><rect x="3.80" y="-7.79" width="15.39" height="9.99" fill="#000"/><rect x="26.64" y="-7.79" width="15.48" height="9.99" fill="#000"/></mask><text x="0" y="0" font-size="77.50">1500</text></g>
<g transform="translate(1692.40,1745.50) scale(1.0000,1.0450)" mask="url(#m2)"><mask id="m2" maskUnits="userSpaceOnUse" x="-50" y="-93" width="272" height="124"><rect x="-50" y="-93" width="272" height="124" fill="#fff"/><rect x="3.80" y="-7.79" width="15.39" height="9.99" fill="#000"/><rect x="26.64" y="-7.79" width="15.48" height="9.99" fill="#000"/></mask><text x="0" y="0" font-size="77.50">1000</text></g>
<g transform="translate(1989.55,1745.50) scale(1.0000,1.0450)"><text x="0" y="0" font-size="77.50">500</text></g>
<g transform="translate(161.50,184.30) scale(1.0000,1.0000)"><text style="stroke-width:0.2px" x="0" y="0" font-size="78.00" letter-spacing="2">(g)</text></g>
<g transform="translate(161.50,359.60) scale(1.0000,1.0000)"><text style="stroke-width:0.2px" x="0" y="0" font-size="78.00" letter-spacing="2">(f)</text></g>
<g transform="translate(161.50,615.20) scale(1.0000,1.0000)"><text style="stroke-width:0.2px" x="0" y="0" font-size="78.00" letter-spacing="2">(e)</text></g>
<g transform="translate(161.50,871.20) scale(1.0000,1.0000)"><text style="stroke-width:0.2px" x="0" y="0" font-size="78.00" letter-spacing="2">(d)</text></g>
<g transform="translate(161.50,1045.50) scale(1.0000,1.0000)"><text style="stroke-width:0.2px" x="0" y="0" font-size="78.00" letter-spacing="2">(c)</text></g>
<g transform="translate(161.50,1301.80) scale(1.0000,1.0000)"><text style="stroke-width:0.2px" x="0" y="0" font-size="78.00" letter-spacing="2">(b)</text></g>
<g transform="translate(161.50,1557.50) scale(1.0000,1.0000)"><text style="stroke-width:0.2px" x="0" y="0" font-size="78.00" letter-spacing="2">(a)</text></g>
<g transform="translate(456.98,270.35) scale(1.0000,1.0450)"><text x="0" y="0" font-size="63.53">3422</text></g>
<g transform="translate(678.99,250.34) scale(1.0000,1.0450)"><text x="0" y="0" font-size="64.88">2909</text></g>
<g transform="translate(1423.25,256.35) scale(1.0000,1.0450)" mask="url(#m3)"><mask id="m3" maskUnits="userSpaceOnUse" x="-50" y="-76" width="241" height="102"><rect x="-50" y="-76" width="241" height="102" fill="#fff"/><rect x="2.84" y="-6.75" width="12.83" height="8.95" fill="#000"/><rect x="21.89" y="-6.75" width="13.14" height="8.95" fill="#000"/></mask><text x="0" y="0" font-size="63.53">1645</text></g>
<g transform="translate(1875.55,235.84) scale(1.0000,1.0450)" mask="url(#m4)"><mask id="m4" maskUnits="userSpaceOnUse" x="-50" y="-77" width="243" height="103"><rect x="-50" y="-77" width="243" height="103" fill="#fff"/><rect x="2.89" y="-6.80" width="12.96" height="9.00" fill="#000"/><rect x="22.12" y="-6.80" width="13.25" height="9.00" fill="#000"/></mask><text x="0" y="0" font-size="64.20">1063</text></g>
<g transform="translate(441.66,497.35) scale(1.0000,1.0450)"><text x="0" y="0" font-size="63.53">3404</text></g>
<g transform="translate(781.36,467.73) scale(1.0000,1.0450)"><text x="0" y="0" font-size="65.42">2898</text></g>
<g transform="translate(1457.59,450.37) scale(1.0000,1.0450)" mask="url(#m5)"><mask id="m5" maskUnits="userSpaceOnUse" x="-50" y="-75" width="238" height="99"><rect x="-50" y="-75" width="238" height="99" fill="#fff"/><rect x="2.75" y="-6.64" width="12.58" height="8.84" fill="#000"/><rect x="21.43" y="-6.64" width="12.91" height="8.84" fill="#000"/></mask><text x="0" y="0" font-size="62.17">1653</text></g>
<g transform="translate(1871.69,430.66) scale(1.0000,1.0450)" mask="url(#m6)"><mask id="m6" maskUnits="userSpaceOnUse" x="-50" y="-75" width="239" height="100"><rect x="-50" y="-75" width="239" height="100" fill="#fff"/><rect x="2.78" y="-6.68" width="12.66" height="8.88" fill="#000"/><rect x="21.57" y="-6.68" width="12.98" height="8.88" fill="#000"/></mask><text x="0" y="0" font-size="62.58">1069</text></g>
<g transform="translate(688.68,1880.50) scale(1.0123,1.0250)"><text x="0" y="0" font-size="95.00">Wavenumber (cm</text></g>
<g transform="translate(1442.34,1829.16) scale(1.0323,0.7000)"><text x="0" y="0" font-size="66.00">−</text></g>
<g transform="translate(1479.91,1829.10) scale(1.0000,1.0439)" mask="url(#m7)"><mask id="m7" maskUnits="userSpaceOnUse" x="-50" y="-79" width="137" height="106"><rect x="-50" y="-79" width="137" height="106" fill="#fff"/><rect x="3.01" y="-6.93" width="13.28" height="9.13" fill="#000"/><rect x="22.73" y="-6.93" width="13.55" height="9.13" fill="#000"/></mask><text style="stroke-width:1.6px" x="0" y="0" font-size="66.00">1</text></g>
<g transform="translate(1519.64,1880.50) scale(1.0000,1.0150)"><text x="0" y="0" font-size="95.00">)</text></g>
<g transform="translate(81.7,1258.4) rotate(-90) scale(1,1.04)"><text x="0" y="0" font-size="95">Transmittance (%)</text></g>
</g></svg></body></html>
